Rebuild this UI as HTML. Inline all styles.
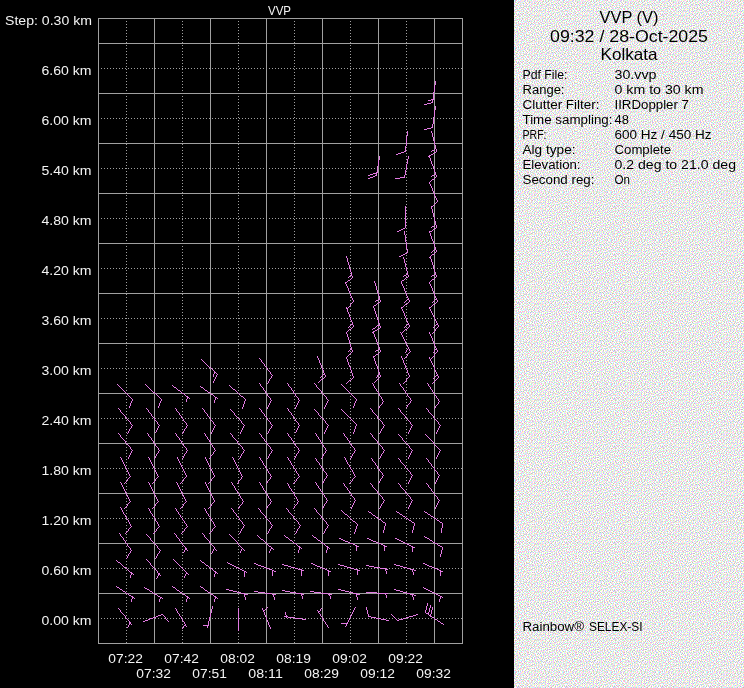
<!DOCTYPE html>
<html><head><meta charset="utf-8"><style>
html,body{margin:0;padding:0;background:#000;width:744px;height:688px;overflow:hidden}
svg{display:block;will-change:transform}
text{font-family:"Liberation Sans",sans-serif}
</style></head><body>
<svg width="744" height="688" viewBox="0 0 744 688">
<defs><pattern id="nz" width="48" height="48" patternUnits="userSpaceOnUse"><rect width="48" height="48" fill="#fff"/><path fill="#c0ffff" d="M0 0h1v1h-1zM2 0h1v1h-1zM9 0h1v1h-1zM18 0h1v1h-1zM22 0h1v1h-1zM24 0h1v1h-1zM26 0h1v1h-1zM28 0h1v1h-1zM34 0h1v1h-1zM38 0h1v1h-1zM40 0h1v1h-1zM4 1h1v1h-1zM7 1h1v1h-1zM19 1h1v1h-1zM34 1h1v1h-1zM37 1h1v1h-1zM43 1h1v1h-1zM3 2h1v1h-1zM12 2h1v1h-1zM16 2h1v1h-1zM27 2h1v1h-1zM30 2h1v1h-1zM41 2h1v1h-1zM42 2h1v1h-1zM1 3h1v1h-1zM18 3h1v1h-1zM23 3h1v1h-1zM38 3h1v1h-1zM5 4h1v1h-1zM6 4h1v1h-1zM8 4h1v1h-1zM11 4h1v1h-1zM25 4h1v1h-1zM28 4h1v1h-1zM33 4h1v1h-1zM41 4h1v1h-1zM43 4h1v1h-1zM17 5h1v1h-1zM22 5h1v1h-1zM24 5h1v1h-1zM29 5h1v1h-1zM31 5h1v1h-1zM34 5h1v1h-1zM39 5h1v1h-1zM45 5h1v1h-1zM4 6h1v1h-1zM6 6h1v1h-1zM11 6h1v1h-1zM13 6h1v1h-1zM15 6h1v1h-1zM24 6h1v1h-1zM30 6h1v1h-1zM0 7h1v1h-1zM7 7h1v1h-1zM20 7h1v1h-1zM37 7h1v1h-1zM40 7h1v1h-1zM42 7h1v1h-1zM1 8h1v1h-1zM10 8h1v1h-1zM11 8h1v1h-1zM16 8h1v1h-1zM28 8h1v1h-1zM45 8h1v1h-1zM1 9h1v1h-1zM30 9h1v1h-1zM36 9h1v1h-1zM38 9h1v1h-1zM43 9h1v1h-1zM4 10h1v1h-1zM16 10h1v1h-1zM23 10h1v1h-1zM25 10h1v1h-1zM41 10h1v1h-1zM5 11h1v1h-1zM13 11h1v1h-1zM16 11h1v1h-1zM22 11h1v1h-1zM32 11h1v1h-1zM37 11h1v1h-1zM38 11h1v1h-1zM44 11h1v1h-1zM4 12h1v1h-1zM10 12h1v1h-1zM25 12h1v1h-1zM33 12h1v1h-1zM41 12h1v1h-1zM42 12h1v1h-1zM46 12h1v1h-1zM2 13h1v1h-1zM13 13h1v1h-1zM14 13h1v1h-1zM18 13h1v1h-1zM23 13h1v1h-1zM35 13h1v1h-1zM8 14h1v1h-1zM12 14h1v1h-1zM17 14h1v1h-1zM21 14h1v1h-1zM32 14h1v1h-1zM37 14h1v1h-1zM44 14h1v1h-1zM46 14h1v1h-1zM3 15h1v1h-1zM4 15h1v1h-1zM5 15h1v1h-1zM14 15h1v1h-1zM16 15h1v1h-1zM21 15h1v1h-1zM30 15h1v1h-1zM9 16h1v1h-1zM11 16h1v1h-1zM22 16h1v1h-1zM26 16h1v1h-1zM32 16h1v1h-1zM47 16h1v1h-1zM8 17h1v1h-1zM10 17h1v1h-1zM14 17h1v1h-1zM15 17h1v1h-1zM27 17h1v1h-1zM33 17h1v1h-1zM42 17h1v1h-1zM14 18h1v1h-1zM22 18h1v1h-1zM23 18h1v1h-1zM35 18h1v1h-1zM38 18h1v1h-1zM40 18h1v1h-1zM45 18h1v1h-1zM0 19h1v1h-1zM6 19h1v1h-1zM9 19h1v1h-1zM12 19h1v1h-1zM18 19h1v1h-1zM20 19h1v1h-1zM25 19h1v1h-1zM35 19h1v1h-1zM2 20h1v1h-1zM5 20h1v1h-1zM19 20h1v1h-1zM23 20h1v1h-1zM37 20h1v1h-1zM43 20h1v1h-1zM46 20h1v1h-1zM0 21h1v1h-1zM4 21h1v1h-1zM9 21h1v1h-1zM12 21h1v1h-1zM15 21h1v1h-1zM17 21h1v1h-1zM19 21h1v1h-1zM27 21h1v1h-1zM44 21h1v1h-1zM45 21h1v1h-1zM7 22h1v1h-1zM9 22h1v1h-1zM28 22h1v1h-1zM41 22h1v1h-1zM42 22h1v1h-1zM44 22h1v1h-1zM46 22h1v1h-1zM1 23h1v1h-1zM18 23h1v1h-1zM20 23h1v1h-1zM24 23h1v1h-1zM31 23h1v1h-1zM39 23h1v1h-1zM47 23h1v1h-1zM3 24h1v1h-1zM8 24h1v1h-1zM10 24h1v1h-1zM12 24h1v1h-1zM27 24h1v1h-1zM34 24h1v1h-1zM37 24h1v1h-1zM38 24h1v1h-1zM44 24h1v1h-1zM10 25h1v1h-1zM13 25h1v1h-1zM15 25h1v1h-1zM24 25h1v1h-1zM43 25h1v1h-1zM46 25h1v1h-1zM0 26h1v1h-1zM5 26h1v1h-1zM7 26h1v1h-1zM23 26h1v1h-1zM37 26h1v1h-1zM17 27h1v1h-1zM24 27h1v1h-1zM26 27h1v1h-1zM30 27h1v1h-1zM32 27h1v1h-1zM36 27h1v1h-1zM40 27h1v1h-1zM43 27h1v1h-1zM45 27h1v1h-1zM6 28h1v1h-1zM27 28h1v1h-1zM36 28h1v1h-1zM46 28h1v1h-1zM9 29h1v1h-1zM15 29h1v1h-1zM25 29h1v1h-1zM29 29h1v1h-1zM34 29h1v1h-1zM40 29h1v1h-1zM6 30h1v1h-1zM27 30h1v1h-1zM35 30h1v1h-1zM37 30h1v1h-1zM46 30h1v1h-1zM4 31h1v1h-1zM6 31h1v1h-1zM16 31h1v1h-1zM20 31h1v1h-1zM24 31h1v1h-1zM25 31h1v1h-1zM42 31h1v1h-1zM46 31h1v1h-1zM1 32h1v1h-1zM7 32h1v1h-1zM12 32h1v1h-1zM15 32h1v1h-1zM29 32h1v1h-1zM34 32h1v1h-1zM36 32h1v1h-1zM38 32h1v1h-1zM44 32h1v1h-1zM46 32h1v1h-1zM1 33h1v1h-1zM7 33h1v1h-1zM9 33h1v1h-1zM28 33h1v1h-1zM33 33h1v1h-1zM37 33h1v1h-1zM40 33h1v1h-1zM41 33h1v1h-1zM45 33h1v1h-1zM12 34h1v1h-1zM27 34h1v1h-1zM33 34h1v1h-1zM42 34h1v1h-1zM1 35h1v1h-1zM7 35h1v1h-1zM19 35h1v1h-1zM22 35h1v1h-1zM24 35h1v1h-1zM26 35h1v1h-1zM32 35h1v1h-1zM34 35h1v1h-1zM38 35h1v1h-1zM42 35h1v1h-1zM5 36h1v1h-1zM9 36h1v1h-1zM12 36h1v1h-1zM35 36h1v1h-1zM40 36h1v1h-1zM41 36h1v1h-1zM43 36h1v1h-1zM46 36h1v1h-1zM1 37h1v1h-1zM6 37h1v1h-1zM10 37h1v1h-1zM24 37h1v1h-1zM38 37h1v1h-1zM46 37h1v1h-1zM2 38h1v1h-1zM5 38h1v1h-1zM8 38h1v1h-1zM11 38h1v1h-1zM13 38h1v1h-1zM20 38h1v1h-1zM30 38h1v1h-1zM32 38h1v1h-1zM35 38h1v1h-1zM38 38h1v1h-1zM0 39h1v1h-1zM10 39h1v1h-1zM18 39h1v1h-1zM24 39h1v1h-1zM28 39h1v1h-1zM37 39h1v1h-1zM40 39h1v1h-1zM43 39h1v1h-1zM46 39h1v1h-1zM17 40h1v1h-1zM20 40h1v1h-1zM25 40h1v1h-1zM33 40h1v1h-1zM38 40h1v1h-1zM0 41h1v1h-1zM6 41h1v1h-1zM12 41h1v1h-1zM24 41h1v1h-1zM29 41h1v1h-1zM34 41h1v1h-1zM36 41h1v1h-1zM42 41h1v1h-1zM45 41h1v1h-1zM8 42h1v1h-1zM13 42h1v1h-1zM16 42h1v1h-1zM21 42h1v1h-1zM25 42h1v1h-1zM35 42h1v1h-1zM37 42h1v1h-1zM46 42h1v1h-1zM3 43h1v1h-1zM6 43h1v1h-1zM11 43h1v1h-1zM18 43h1v1h-1zM19 43h1v1h-1zM22 43h1v1h-1zM26 43h1v1h-1zM28 43h1v1h-1zM36 43h1v1h-1zM40 43h1v1h-1zM41 43h1v1h-1zM1 44h1v1h-1zM39 44h1v1h-1zM44 44h1v1h-1zM2 45h1v1h-1zM9 45h1v1h-1zM15 45h1v1h-1zM19 45h1v1h-1zM24 45h1v1h-1zM26 45h1v1h-1zM30 45h1v1h-1zM35 45h1v1h-1zM6 46h1v1h-1zM11 46h1v1h-1zM13 46h1v1h-1zM19 46h1v1h-1zM28 46h1v1h-1zM8 47h1v1h-1zM14 47h1v1h-1zM23 47h1v1h-1zM30 47h1v1h-1zM34 47h1v1h-1zM35 47h1v1h-1zM37 47h1v1h-1zM46 47h1v1h-1z"/><path fill="#ffffc0" d="M1 0h1v1h-1zM6 0h1v1h-1zM10 0h1v1h-1zM11 0h1v1h-1zM42 0h1v1h-1zM43 0h1v1h-1zM0 1h1v1h-1zM2 1h1v1h-1zM5 1h1v1h-1zM12 1h1v1h-1zM18 1h1v1h-1zM23 1h1v1h-1zM27 1h1v1h-1zM33 1h1v1h-1zM41 1h1v1h-1zM45 1h1v1h-1zM0 2h1v1h-1zM7 2h1v1h-1zM21 2h1v1h-1zM26 2h1v1h-1zM34 2h1v1h-1zM43 2h1v1h-1zM46 2h1v1h-1zM5 3h1v1h-1zM15 3h1v1h-1zM20 3h1v1h-1zM22 3h1v1h-1zM25 3h1v1h-1zM33 3h1v1h-1zM41 3h1v1h-1zM44 3h1v1h-1zM1 4h1v1h-1zM3 4h1v1h-1zM18 4h1v1h-1zM21 4h1v1h-1zM27 4h1v1h-1zM36 4h1v1h-1zM37 4h1v1h-1zM4 5h1v1h-1zM7 5h1v1h-1zM16 5h1v1h-1zM33 5h1v1h-1zM42 5h1v1h-1zM44 5h1v1h-1zM3 6h1v1h-1zM5 6h1v1h-1zM10 6h1v1h-1zM14 6h1v1h-1zM20 6h1v1h-1zM23 6h1v1h-1zM29 6h1v1h-1zM31 6h1v1h-1zM33 6h1v1h-1zM36 6h1v1h-1zM43 6h1v1h-1zM47 6h1v1h-1zM1 7h1v1h-1zM15 7h1v1h-1zM27 7h1v1h-1zM25 8h1v1h-1zM31 8h1v1h-1zM43 8h1v1h-1zM9 9h1v1h-1zM11 9h1v1h-1zM14 9h1v1h-1zM15 9h1v1h-1zM16 9h1v1h-1zM19 9h1v1h-1zM21 9h1v1h-1zM24 9h1v1h-1zM28 9h1v1h-1zM29 9h1v1h-1zM34 9h1v1h-1zM39 9h1v1h-1zM5 10h1v1h-1zM10 10h1v1h-1zM18 10h1v1h-1zM30 10h1v1h-1zM39 10h1v1h-1zM44 10h1v1h-1zM15 11h1v1h-1zM23 11h1v1h-1zM25 11h1v1h-1zM30 11h1v1h-1zM40 11h1v1h-1zM42 11h1v1h-1zM3 12h1v1h-1zM5 12h1v1h-1zM7 12h1v1h-1zM11 12h1v1h-1zM14 12h1v1h-1zM16 12h1v1h-1zM18 12h1v1h-1zM21 12h1v1h-1zM27 12h1v1h-1zM34 12h1v1h-1zM44 12h1v1h-1zM47 12h1v1h-1zM4 13h1v1h-1zM10 13h1v1h-1zM17 13h1v1h-1zM31 13h1v1h-1zM41 13h1v1h-1zM45 13h1v1h-1zM3 14h1v1h-1zM6 14h1v1h-1zM9 14h1v1h-1zM11 14h1v1h-1zM13 14h1v1h-1zM16 14h1v1h-1zM19 14h1v1h-1zM25 14h1v1h-1zM29 14h1v1h-1zM30 14h1v1h-1zM2 15h1v1h-1zM8 15h1v1h-1zM13 15h1v1h-1zM32 15h1v1h-1zM4 16h1v1h-1zM12 16h1v1h-1zM15 16h1v1h-1zM25 16h1v1h-1zM31 16h1v1h-1zM34 16h1v1h-1zM38 16h1v1h-1zM42 16h1v1h-1zM5 17h1v1h-1zM9 17h1v1h-1zM13 17h1v1h-1zM16 17h1v1h-1zM20 17h1v1h-1zM28 17h1v1h-1zM30 17h1v1h-1zM32 17h1v1h-1zM6 18h1v1h-1zM7 18h1v1h-1zM10 18h1v1h-1zM24 18h1v1h-1zM29 18h1v1h-1zM31 18h1v1h-1zM41 18h1v1h-1zM44 18h1v1h-1zM2 19h1v1h-1zM8 19h1v1h-1zM13 19h1v1h-1zM15 19h1v1h-1zM21 19h1v1h-1zM27 19h1v1h-1zM43 19h1v1h-1zM1 20h1v1h-1zM4 20h1v1h-1zM24 20h1v1h-1zM25 20h1v1h-1zM44 20h1v1h-1zM8 21h1v1h-1zM20 21h1v1h-1zM22 21h1v1h-1zM34 21h1v1h-1zM2 22h1v1h-1zM15 22h1v1h-1zM18 22h1v1h-1zM20 22h1v1h-1zM25 22h1v1h-1zM26 22h1v1h-1zM33 22h1v1h-1zM35 22h1v1h-1zM37 22h1v1h-1zM13 23h1v1h-1zM34 23h1v1h-1zM15 24h1v1h-1zM18 24h1v1h-1zM26 24h1v1h-1zM42 24h1v1h-1zM1 25h1v1h-1zM4 25h1v1h-1zM9 25h1v1h-1zM11 25h1v1h-1zM16 25h1v1h-1zM27 25h1v1h-1zM30 25h1v1h-1zM32 25h1v1h-1zM34 25h1v1h-1zM39 25h1v1h-1zM44 25h1v1h-1zM45 25h1v1h-1zM1 26h1v1h-1zM8 26h1v1h-1zM12 26h1v1h-1zM14 26h1v1h-1zM32 26h1v1h-1zM4 27h1v1h-1zM14 27h1v1h-1zM16 27h1v1h-1zM19 27h1v1h-1zM22 27h1v1h-1zM23 27h1v1h-1zM34 27h1v1h-1zM44 27h1v1h-1zM47 27h1v1h-1zM5 28h1v1h-1zM7 28h1v1h-1zM9 28h1v1h-1zM16 28h1v1h-1zM18 28h1v1h-1zM28 28h1v1h-1zM30 28h1v1h-1zM34 28h1v1h-1zM37 28h1v1h-1zM38 28h1v1h-1zM40 28h1v1h-1zM0 29h1v1h-1zM4 29h1v1h-1zM14 29h1v1h-1zM19 29h1v1h-1zM28 29h1v1h-1zM33 29h1v1h-1zM44 29h1v1h-1zM4 30h1v1h-1zM5 30h1v1h-1zM13 30h1v1h-1zM17 30h1v1h-1zM25 30h1v1h-1zM29 30h1v1h-1zM36 30h1v1h-1zM38 30h1v1h-1zM10 31h1v1h-1zM11 31h1v1h-1zM14 31h1v1h-1zM21 31h1v1h-1zM38 31h1v1h-1zM44 31h1v1h-1zM16 32h1v1h-1zM28 32h1v1h-1zM39 32h1v1h-1zM40 32h1v1h-1zM2 33h1v1h-1zM12 33h1v1h-1zM14 33h1v1h-1zM21 33h1v1h-1zM36 33h1v1h-1zM46 33h1v1h-1zM0 34h1v1h-1zM16 34h1v1h-1zM23 34h1v1h-1zM28 34h1v1h-1zM31 34h1v1h-1zM32 34h1v1h-1zM34 34h1v1h-1zM44 34h1v1h-1zM47 34h1v1h-1zM8 35h1v1h-1zM10 35h1v1h-1zM11 35h1v1h-1zM13 35h1v1h-1zM20 35h1v1h-1zM15 36h1v1h-1zM17 36h1v1h-1zM22 36h1v1h-1zM24 36h1v1h-1zM31 36h1v1h-1zM38 36h1v1h-1zM0 37h1v1h-1zM8 37h1v1h-1zM17 37h1v1h-1zM26 37h1v1h-1zM39 37h1v1h-1zM43 37h1v1h-1zM6 38h1v1h-1zM12 38h1v1h-1zM16 38h1v1h-1zM24 38h1v1h-1zM29 38h1v1h-1zM37 38h1v1h-1zM4 39h1v1h-1zM7 39h1v1h-1zM9 39h1v1h-1zM21 39h1v1h-1zM23 39h1v1h-1zM26 39h1v1h-1zM32 39h1v1h-1zM39 39h1v1h-1zM41 39h1v1h-1zM44 39h1v1h-1zM0 40h1v1h-1zM2 40h1v1h-1zM11 40h1v1h-1zM18 40h1v1h-1zM24 40h1v1h-1zM26 40h1v1h-1zM28 40h1v1h-1zM34 40h1v1h-1zM37 40h1v1h-1zM1 41h1v1h-1zM9 41h1v1h-1zM13 41h1v1h-1zM23 41h1v1h-1zM28 41h1v1h-1zM30 41h1v1h-1zM35 41h1v1h-1zM39 41h1v1h-1zM3 42h1v1h-1zM5 42h1v1h-1zM7 42h1v1h-1zM11 42h1v1h-1zM15 42h1v1h-1zM20 42h1v1h-1zM33 42h1v1h-1zM39 42h1v1h-1zM1 43h1v1h-1zM15 43h1v1h-1zM23 43h1v1h-1zM27 43h1v1h-1zM29 43h1v1h-1zM31 43h1v1h-1zM34 43h1v1h-1zM38 43h1v1h-1zM47 43h1v1h-1zM20 44h1v1h-1zM22 44h1v1h-1zM32 44h1v1h-1zM35 44h1v1h-1zM37 44h1v1h-1zM45 44h1v1h-1zM46 44h1v1h-1zM1 45h1v1h-1zM3 45h1v1h-1zM6 45h1v1h-1zM25 45h1v1h-1zM36 45h1v1h-1zM41 45h1v1h-1zM47 45h1v1h-1zM2 46h1v1h-1zM8 46h1v1h-1zM10 46h1v1h-1zM31 46h1v1h-1zM46 46h1v1h-1zM1 47h1v1h-1zM15 47h1v1h-1zM18 47h1v1h-1zM22 47h1v1h-1zM26 47h1v1h-1zM33 47h1v1h-1zM43 47h1v1h-1zM45 47h1v1h-1z"/><path fill="#c0ffc0" d="M3 0h1v1h-1zM15 0h1v1h-1zM21 0h1v1h-1zM26 1h1v1h-1zM30 1h1v1h-1zM39 1h1v1h-1zM8 2h1v1h-1zM14 2h1v1h-1zM24 2h1v1h-1zM32 2h1v1h-1zM36 2h1v1h-1zM3 3h1v1h-1zM10 3h1v1h-1zM40 3h1v1h-1zM13 4h1v1h-1zM14 4h1v1h-1zM31 4h1v1h-1zM35 4h1v1h-1zM11 5h1v1h-1zM18 5h1v1h-1zM20 5h1v1h-1zM40 5h1v1h-1zM1 6h1v1h-1zM8 6h1v1h-1zM2 7h1v1h-1zM13 7h1v1h-1zM17 7h1v1h-1zM22 7h1v1h-1zM35 7h1v1h-1zM39 7h1v1h-1zM46 7h1v1h-1zM7 8h1v1h-1zM12 8h1v1h-1zM18 8h1v1h-1zM26 8h1v1h-1zM32 8h1v1h-1zM3 9h1v1h-1zM6 9h1v1h-1zM37 9h1v1h-1zM41 9h1v1h-1zM12 10h1v1h-1zM20 10h1v1h-1zM27 10h1v1h-1zM33 10h1v1h-1zM46 10h1v1h-1zM1 11h1v1h-1zM2 11h1v1h-1zM10 11h1v1h-1zM35 11h1v1h-1zM23 12h1v1h-1zM26 12h1v1h-1zM29 12h1v1h-1zM31 12h1v1h-1zM6 13h1v1h-1zM19 13h1v1h-1zM34 13h1v1h-1zM38 13h1v1h-1zM0 14h1v1h-1zM24 14h1v1h-1zM11 15h1v1h-1zM27 15h1v1h-1zM39 15h1v1h-1zM42 15h1v1h-1zM45 15h1v1h-1zM0 16h1v1h-1zM2 16h1v1h-1zM7 16h1v1h-1zM18 16h1v1h-1zM28 16h1v1h-1zM40 16h1v1h-1zM46 16h1v1h-1zM3 17h1v1h-1zM19 17h1v1h-1zM37 17h1v1h-1zM44 17h1v1h-1zM17 18h1v1h-1zM36 18h1v1h-1zM39 18h1v1h-1zM47 18h1v1h-1zM11 19h1v1h-1zM29 19h1v1h-1zM16 20h1v1h-1zM26 20h1v1h-1zM32 20h1v1h-1zM36 20h1v1h-1zM39 20h1v1h-1zM47 20h1v1h-1zM3 21h1v1h-1zM11 21h1v1h-1zM25 21h1v1h-1zM29 21h1v1h-1zM30 21h1v1h-1zM40 21h1v1h-1zM22 22h1v1h-1zM32 22h1v1h-1zM4 23h1v1h-1zM6 23h1v1h-1zM28 23h1v1h-1zM36 23h1v1h-1zM7 24h1v1h-1zM17 24h1v1h-1zM19 24h1v1h-1zM23 24h1v1h-1zM0 25h1v1h-1zM36 25h1v1h-1zM41 25h1v1h-1zM47 25h1v1h-1zM25 26h1v1h-1zM40 26h1v1h-1zM43 26h1v1h-1zM6 27h1v1h-1zM11 27h1v1h-1zM3 28h1v1h-1zM12 28h1v1h-1zM15 28h1v1h-1zM21 28h1v1h-1zM2 29h1v1h-1zM20 29h1v1h-1zM24 29h1v1h-1zM43 29h1v1h-1zM22 30h1v1h-1zM32 30h1v1h-1zM18 31h1v1h-1zM19 31h1v1h-1zM23 31h1v1h-1zM31 31h1v1h-1zM41 31h1v1h-1zM5 32h1v1h-1zM9 32h1v1h-1zM27 32h1v1h-1zM30 32h1v1h-1zM4 33h1v1h-1zM19 33h1v1h-1zM23 33h1v1h-1zM25 33h1v1h-1zM43 33h1v1h-1zM15 34h1v1h-1zM38 34h1v1h-1zM3 35h1v1h-1zM25 35h1v1h-1zM29 35h1v1h-1zM36 35h1v1h-1zM39 35h1v1h-1zM2 36h1v1h-1zM23 36h1v1h-1zM13 37h1v1h-1zM29 37h1v1h-1zM36 37h1v1h-1zM47 37h1v1h-1zM3 38h1v1h-1zM33 38h1v1h-1zM6 39h1v1h-1zM12 39h1v1h-1zM27 39h1v1h-1zM31 39h1v1h-1zM35 39h1v1h-1zM8 40h1v1h-1zM14 40h1v1h-1zM22 40h1v1h-1zM44 40h1v1h-1zM47 40h1v1h-1zM4 41h1v1h-1zM10 41h1v1h-1zM19 41h1v1h-1zM41 41h1v1h-1zM43 41h1v1h-1zM2 42h1v1h-1zM18 42h1v1h-1zM32 42h1v1h-1zM42 43h1v1h-1zM45 43h1v1h-1zM8 44h1v1h-1zM17 44h1v1h-1zM25 44h1v1h-1zM31 44h1v1h-1zM13 45h1v1h-1zM16 45h1v1h-1zM23 45h1v1h-1zM39 45h1v1h-1zM42 45h1v1h-1zM4 46h1v1h-1zM27 46h1v1h-1zM33 46h1v1h-1zM40 46h1v1h-1zM3 47h1v1h-1zM6 47h1v1h-1zM9 47h1v1h-1zM11 47h1v1h-1zM17 47h1v1h-1zM20 47h1v1h-1zM29 47h1v1h-1z"/><path fill="#ffc0ff" d="M5 0h1v1h-1zM7 0h1v1h-1zM12 0h1v1h-1zM13 0h1v1h-1zM27 0h1v1h-1zM30 0h1v1h-1zM41 0h1v1h-1zM44 0h1v1h-1zM3 1h1v1h-1zM6 1h1v1h-1zM8 1h1v1h-1zM22 1h1v1h-1zM25 1h1v1h-1zM28 1h1v1h-1zM32 1h1v1h-1zM38 1h1v1h-1zM40 1h1v1h-1zM42 1h1v1h-1zM2 2h1v1h-1zM4 2h1v1h-1zM13 2h1v1h-1zM19 2h1v1h-1zM25 2h1v1h-1zM39 2h1v1h-1zM40 2h1v1h-1zM0 3h1v1h-1zM4 3h1v1h-1zM14 3h1v1h-1zM27 3h1v1h-1zM31 3h1v1h-1zM34 3h1v1h-1zM42 3h1v1h-1zM2 4h1v1h-1zM4 4h1v1h-1zM10 4h1v1h-1zM29 4h1v1h-1zM32 4h1v1h-1zM34 4h1v1h-1zM40 4h1v1h-1zM45 4h1v1h-1zM12 5h1v1h-1zM14 5h1v1h-1zM19 5h1v1h-1zM21 5h1v1h-1zM23 5h1v1h-1zM25 5h1v1h-1zM41 5h1v1h-1zM2 6h1v1h-1zM7 6h1v1h-1zM12 6h1v1h-1zM16 6h1v1h-1zM17 6h1v1h-1zM22 6h1v1h-1zM25 6h1v1h-1zM35 6h1v1h-1zM3 7h1v1h-1zM14 7h1v1h-1zM19 7h1v1h-1zM32 7h1v1h-1zM33 7h1v1h-1zM36 7h1v1h-1zM6 8h1v1h-1zM9 8h1v1h-1zM13 8h1v1h-1zM17 8h1v1h-1zM23 8h1v1h-1zM29 8h1v1h-1zM37 8h1v1h-1zM40 8h1v1h-1zM42 8h1v1h-1zM4 9h1v1h-1zM12 9h1v1h-1zM26 9h1v1h-1zM47 9h1v1h-1zM1 10h1v1h-1zM2 10h1v1h-1zM28 10h1v1h-1zM32 10h1v1h-1zM40 10h1v1h-1zM4 11h1v1h-1zM11 11h1v1h-1zM12 11h1v1h-1zM17 11h1v1h-1zM20 11h1v1h-1zM24 11h1v1h-1zM26 11h1v1h-1zM31 11h1v1h-1zM34 11h1v1h-1zM41 11h1v1h-1zM2 12h1v1h-1zM6 12h1v1h-1zM20 12h1v1h-1zM35 12h1v1h-1zM39 12h1v1h-1zM11 13h1v1h-1zM16 13h1v1h-1zM20 13h1v1h-1zM24 13h1v1h-1zM27 13h1v1h-1zM32 13h1v1h-1zM42 13h1v1h-1zM46 13h1v1h-1zM2 14h1v1h-1zM4 14h1v1h-1zM5 14h1v1h-1zM10 14h1v1h-1zM14 14h1v1h-1zM18 14h1v1h-1zM23 14h1v1h-1zM39 14h1v1h-1zM45 14h1v1h-1zM6 15h1v1h-1zM10 15h1v1h-1zM15 15h1v1h-1zM19 15h1v1h-1zM26 15h1v1h-1zM29 15h1v1h-1zM31 15h1v1h-1zM38 15h1v1h-1zM40 15h1v1h-1zM46 15h1v1h-1zM3 16h1v1h-1zM13 16h1v1h-1zM17 16h1v1h-1zM27 16h1v1h-1zM1 17h1v1h-1zM4 17h1v1h-1zM12 17h1v1h-1zM31 17h1v1h-1zM35 17h1v1h-1zM39 17h1v1h-1zM41 17h1v1h-1zM45 17h1v1h-1zM47 17h1v1h-1zM8 18h1v1h-1zM13 18h1v1h-1zM19 18h1v1h-1zM28 18h1v1h-1zM43 18h1v1h-1zM1 19h1v1h-1zM10 19h1v1h-1zM17 19h1v1h-1zM23 19h1v1h-1zM24 19h1v1h-1zM26 19h1v1h-1zM36 19h1v1h-1zM38 19h1v1h-1zM40 19h1v1h-1zM3 20h1v1h-1zM8 20h1v1h-1zM29 20h1v1h-1zM30 20h1v1h-1zM45 20h1v1h-1zM2 21h1v1h-1zM18 21h1v1h-1zM26 21h1v1h-1zM41 21h1v1h-1zM46 21h1v1h-1zM3 22h1v1h-1zM6 22h1v1h-1zM19 22h1v1h-1zM23 22h1v1h-1zM27 22h1v1h-1zM38 22h1v1h-1zM0 23h1v1h-1zM7 23h1v1h-1zM16 23h1v1h-1zM19 23h1v1h-1zM23 23h1v1h-1zM25 23h1v1h-1zM32 23h1v1h-1zM35 23h1v1h-1zM43 23h1v1h-1zM4 24h1v1h-1zM9 24h1v1h-1zM36 24h1v1h-1zM40 24h1v1h-1zM43 24h1v1h-1zM2 25h1v1h-1zM6 25h1v1h-1zM20 25h1v1h-1zM35 25h1v1h-1zM37 25h1v1h-1zM16 26h1v1h-1zM44 26h1v1h-1zM47 26h1v1h-1zM0 27h1v1h-1zM5 27h1v1h-1zM12 27h1v1h-1zM13 27h1v1h-1zM15 27h1v1h-1zM25 27h1v1h-1zM2 28h1v1h-1zM10 28h1v1h-1zM23 28h1v1h-1zM24 28h1v1h-1zM42 28h1v1h-1zM44 28h1v1h-1zM6 29h1v1h-1zM16 29h1v1h-1zM21 29h1v1h-1zM30 29h1v1h-1zM32 29h1v1h-1zM36 29h1v1h-1zM37 29h1v1h-1zM47 29h1v1h-1zM16 30h1v1h-1zM19 30h1v1h-1zM20 30h1v1h-1zM23 30h1v1h-1zM26 30h1v1h-1zM39 30h1v1h-1zM47 30h1v1h-1zM5 31h1v1h-1zM12 31h1v1h-1zM17 31h1v1h-1zM22 31h1v1h-1zM26 31h1v1h-1zM28 31h1v1h-1zM4 32h1v1h-1zM10 32h1v1h-1zM20 32h1v1h-1zM33 32h1v1h-1zM37 32h1v1h-1zM41 32h1v1h-1zM43 32h1v1h-1zM45 32h1v1h-1zM8 33h1v1h-1zM20 33h1v1h-1zM26 33h1v1h-1zM29 33h1v1h-1zM31 33h1v1h-1zM39 33h1v1h-1zM44 33h1v1h-1zM8 34h1v1h-1zM14 34h1v1h-1zM24 34h1v1h-1zM25 34h1v1h-1zM26 34h1v1h-1zM37 34h1v1h-1zM43 34h1v1h-1zM12 35h1v1h-1zM23 35h1v1h-1zM30 35h1v1h-1zM35 35h1v1h-1zM37 35h1v1h-1zM3 36h1v1h-1zM10 36h1v1h-1zM25 36h1v1h-1zM34 36h1v1h-1zM39 36h1v1h-1zM2 37h1v1h-1zM7 37h1v1h-1zM11 37h1v1h-1zM23 37h1v1h-1zM25 37h1v1h-1zM37 37h1v1h-1zM44 37h1v1h-1zM0 38h1v1h-1zM4 38h1v1h-1zM7 38h1v1h-1zM19 38h1v1h-1zM21 38h1v1h-1zM25 38h1v1h-1zM28 38h1v1h-1zM31 38h1v1h-1zM34 38h1v1h-1zM41 38h1v1h-1zM2 39h1v1h-1zM11 39h1v1h-1zM13 39h1v1h-1zM25 39h1v1h-1zM29 39h1v1h-1zM33 39h1v1h-1zM38 39h1v1h-1zM10 40h1v1h-1zM23 40h1v1h-1zM32 40h1v1h-1zM36 40h1v1h-1zM41 40h1v1h-1zM42 40h1v1h-1zM43 40h1v1h-1zM2 41h1v1h-1zM8 41h1v1h-1zM11 41h1v1h-1zM21 41h1v1h-1zM25 41h1v1h-1zM46 41h1v1h-1zM0 42h1v1h-1zM4 42h1v1h-1zM6 42h1v1h-1zM12 42h1v1h-1zM14 42h1v1h-1zM19 42h1v1h-1zM28 42h1v1h-1zM34 42h1v1h-1zM38 42h1v1h-1zM16 43h1v1h-1zM17 43h1v1h-1zM24 43h1v1h-1zM25 43h1v1h-1zM32 43h1v1h-1zM37 43h1v1h-1zM46 43h1v1h-1zM0 44h1v1h-1zM2 44h1v1h-1zM5 44h1v1h-1zM24 44h1v1h-1zM30 44h1v1h-1zM36 44h1v1h-1zM41 44h1v1h-1zM7 45h1v1h-1zM18 45h1v1h-1zM22 45h1v1h-1zM28 45h1v1h-1zM40 45h1v1h-1zM43 45h1v1h-1zM3 46h1v1h-1zM9 46h1v1h-1zM12 46h1v1h-1zM16 46h1v1h-1zM23 46h1v1h-1zM32 46h1v1h-1zM34 46h1v1h-1zM4 47h1v1h-1zM10 47h1v1h-1zM16 47h1v1h-1zM19 47h1v1h-1zM47 47h1v1h-1z"/><path fill="#ffc0c0" d="M17 0h1v1h-1zM20 0h1v1h-1zM23 0h1v1h-1zM29 0h1v1h-1zM36 0h1v1h-1zM47 0h1v1h-1zM9 1h1v1h-1zM14 1h1v1h-1zM35 1h1v1h-1zM29 2h1v1h-1zM38 2h1v1h-1zM6 3h1v1h-1zM9 3h1v1h-1zM17 3h1v1h-1zM9 4h1v1h-1zM16 4h1v1h-1zM23 4h1v1h-1zM39 4h1v1h-1zM6 5h1v1h-1zM8 5h1v1h-1zM13 5h1v1h-1zM30 5h1v1h-1zM46 5h1v1h-1zM38 6h1v1h-1zM40 6h1v1h-1zM45 6h1v1h-1zM6 7h1v1h-1zM11 7h1v1h-1zM21 7h1v1h-1zM30 7h1v1h-1zM0 8h1v1h-1zM3 8h1v1h-1zM20 8h1v1h-1zM36 8h1v1h-1zM44 8h1v1h-1zM47 8h1v1h-1zM0 9h1v1h-1zM27 9h1v1h-1zM42 9h1v1h-1zM3 10h1v1h-1zM13 10h1v1h-1zM17 10h1v1h-1zM24 10h1v1h-1zM37 10h1v1h-1zM38 10h1v1h-1zM33 11h1v1h-1zM36 11h1v1h-1zM43 11h1v1h-1zM46 11h1v1h-1zM0 12h1v1h-1zM9 12h1v1h-1zM13 12h1v1h-1zM22 13h1v1h-1zM36 13h1v1h-1zM36 14h1v1h-1zM42 14h1v1h-1zM22 15h1v1h-1zM44 15h1v1h-1zM47 15h1v1h-1zM6 16h1v1h-1zM8 16h1v1h-1zM10 16h1v1h-1zM14 16h1v1h-1zM21 16h1v1h-1zM33 16h1v1h-1zM36 16h1v1h-1zM0 17h1v1h-1zM17 17h1v1h-1zM23 17h1v1h-1zM15 18h1v1h-1zM26 18h1v1h-1zM34 18h1v1h-1zM46 18h1v1h-1zM19 19h1v1h-1zM37 19h1v1h-1zM39 19h1v1h-1zM45 19h1v1h-1zM47 19h1v1h-1zM6 20h1v1h-1zM9 20h1v1h-1zM12 20h1v1h-1zM18 20h1v1h-1zM21 20h1v1h-1zM31 20h1v1h-1zM35 20h1v1h-1zM14 21h1v1h-1zM16 21h1v1h-1zM43 21h1v1h-1zM47 21h1v1h-1zM0 22h1v1h-1zM5 22h1v1h-1zM8 22h1v1h-1zM10 22h1v1h-1zM12 22h1v1h-1zM29 22h1v1h-1zM45 22h1v1h-1zM10 23h1v1h-1zM21 23h1v1h-1zM30 23h1v1h-1zM38 23h1v1h-1zM40 23h1v1h-1zM42 23h1v1h-1zM44 23h1v1h-1zM46 23h1v1h-1zM11 24h1v1h-1zM13 24h1v1h-1zM24 24h1v1h-1zM28 24h1v1h-1zM39 24h1v1h-1zM46 24h1v1h-1zM7 25h1v1h-1zM31 25h1v1h-1zM38 25h1v1h-1zM6 26h1v1h-1zM19 26h1v1h-1zM24 26h1v1h-1zM26 26h1v1h-1zM29 26h1v1h-1zM42 26h1v1h-1zM28 27h1v1h-1zM31 27h1v1h-1zM37 27h1v1h-1zM46 27h1v1h-1zM26 28h1v1h-1zM41 28h1v1h-1zM47 28h1v1h-1zM7 30h1v1h-1zM24 30h1v1h-1zM40 30h1v1h-1zM3 31h1v1h-1zM7 31h1v1h-1zM15 31h1v1h-1zM34 31h1v1h-1zM36 31h1v1h-1zM45 31h1v1h-1zM47 31h1v1h-1zM0 32h1v1h-1zM2 32h1v1h-1zM8 32h1v1h-1zM24 32h1v1h-1zM35 32h1v1h-1zM42 32h1v1h-1zM6 33h1v1h-1zM13 33h1v1h-1zM27 33h1v1h-1zM30 33h1v1h-1zM34 33h1v1h-1zM38 33h1v1h-1zM1 34h1v1h-1zM18 34h1v1h-1zM40 34h1v1h-1zM41 34h1v1h-1zM6 35h1v1h-1zM33 35h1v1h-1zM46 35h1v1h-1zM1 36h1v1h-1zM4 36h1v1h-1zM7 36h1v1h-1zM29 36h1v1h-1zM33 36h1v1h-1zM37 36h1v1h-1zM42 36h1v1h-1zM44 36h1v1h-1zM5 37h1v1h-1zM9 37h1v1h-1zM12 37h1v1h-1zM35 37h1v1h-1zM1 38h1v1h-1zM40 38h1v1h-1zM46 38h1v1h-1zM17 39h1v1h-1zM20 39h1v1h-1zM36 39h1v1h-1zM45 39h1v1h-1zM5 40h1v1h-1zM13 40h1v1h-1zM16 40h1v1h-1zM19 40h1v1h-1zM46 40h1v1h-1zM7 41h1v1h-1zM32 41h1v1h-1zM37 41h1v1h-1zM40 41h1v1h-1zM17 42h1v1h-1zM26 42h1v1h-1zM36 42h1v1h-1zM44 42h1v1h-1zM47 42h1v1h-1zM10 43h1v1h-1zM20 43h1v1h-1zM43 43h1v1h-1zM9 44h1v1h-1zM18 44h1v1h-1zM26 44h1v1h-1zM40 44h1v1h-1zM43 44h1v1h-1zM11 45h1v1h-1zM14 45h1v1h-1zM29 45h1v1h-1zM5 46h1v1h-1zM21 46h1v1h-1zM24 46h1v1h-1zM30 46h1v1h-1zM35 46h1v1h-1zM38 46h1v1h-1zM7 47h1v1h-1zM13 47h1v1h-1zM28 47h1v1h-1zM36 47h1v1h-1zM42 47h1v1h-1z"/><path fill="#c0c0c0" d="M31 0h1v1h-1zM15 1h1v1h-1zM20 1h1v1h-1zM1 2h1v1h-1zM10 2h1v1h-1zM18 2h1v1h-1zM12 3h1v1h-1zM28 3h1v1h-1zM30 3h1v1h-1zM37 3h1v1h-1zM43 3h1v1h-1zM46 3h1v1h-1zM24 4h1v1h-1zM26 4h1v1h-1zM47 4h1v1h-1zM27 5h1v1h-1zM36 5h1v1h-1zM34 6h1v1h-1zM25 7h1v1h-1zM28 7h1v1h-1zM41 7h1v1h-1zM43 7h1v1h-1zM4 8h1v1h-1zM22 8h1v1h-1zM31 9h1v1h-1zM6 11h1v1h-1zM8 11h1v1h-1zM21 11h1v1h-1zM25 13h1v1h-1zM40 13h1v1h-1zM43 13h1v1h-1zM47 13h1v1h-1zM1 14h1v1h-1zM20 14h1v1h-1zM27 14h1v1h-1zM34 14h1v1h-1zM38 14h1v1h-1zM17 15h1v1h-1zM23 15h1v1h-1zM35 16h1v1h-1zM39 16h1v1h-1zM21 17h1v1h-1zM25 17h1v1h-1zM2 18h1v1h-1zM42 18h1v1h-1zM4 19h1v1h-1zM22 19h1v1h-1zM33 19h1v1h-1zM41 20h1v1h-1zM1 21h1v1h-1zM6 21h1v1h-1zM38 21h1v1h-1zM17 22h1v1h-1zM3 23h1v1h-1zM2 24h1v1h-1zM33 24h1v1h-1zM17 25h1v1h-1zM21 25h1v1h-1zM22 25h1v1h-1zM10 26h1v1h-1zM2 27h1v1h-1zM8 27h1v1h-1zM21 27h1v1h-1zM35 27h1v1h-1zM0 28h1v1h-1zM10 29h1v1h-1zM12 29h1v1h-1zM27 29h1v1h-1zM39 29h1v1h-1zM45 29h1v1h-1zM1 30h1v1h-1zM9 30h1v1h-1zM31 30h1v1h-1zM34 30h1v1h-1zM42 30h1v1h-1zM44 30h1v1h-1zM17 32h1v1h-1zM32 32h1v1h-1zM10 33h1v1h-1zM22 33h1v1h-1zM4 34h1v1h-1zM20 34h1v1h-1zM46 34h1v1h-1zM9 35h1v1h-1zM14 35h1v1h-1zM44 35h1v1h-1zM18 36h1v1h-1zM19 36h1v1h-1zM27 36h1v1h-1zM21 37h1v1h-1zM28 37h1v1h-1zM32 37h1v1h-1zM10 38h1v1h-1zM15 38h1v1h-1zM26 38h1v1h-1zM44 38h1v1h-1zM42 39h1v1h-1zM21 40h1v1h-1zM30 40h1v1h-1zM3 41h1v1h-1zM23 42h1v1h-1zM13 43h1v1h-1zM4 44h1v1h-1zM6 44h1v1h-1zM12 44h1v1h-1zM15 44h1v1h-1zM28 44h1v1h-1zM0 45h1v1h-1zM17 46h1v1h-1zM45 46h1v1h-1zM38 47h1v1h-1z"/><path fill="#c0c0ff" d="M35 0h1v1h-1zM45 0h1v1h-1zM1 1h1v1h-1zM11 1h1v1h-1zM17 1h1v1h-1zM44 1h1v1h-1zM47 1h1v1h-1zM6 2h1v1h-1zM23 2h1v1h-1zM33 2h1v1h-1zM35 2h1v1h-1zM45 2h1v1h-1zM7 3h1v1h-1zM21 3h1v1h-1zM15 4h1v1h-1zM19 4h1v1h-1zM20 4h1v1h-1zM1 5h1v1h-1zM3 5h1v1h-1zM32 5h1v1h-1zM37 5h1v1h-1zM43 5h1v1h-1zM0 6h1v1h-1zM9 6h1v1h-1zM18 6h1v1h-1zM28 6h1v1h-1zM44 6h1v1h-1zM46 6h1v1h-1zM5 7h1v1h-1zM9 7h1v1h-1zM15 8h1v1h-1zM24 8h1v1h-1zM30 8h1v1h-1zM33 8h1v1h-1zM39 8h1v1h-1zM8 9h1v1h-1zM17 9h1v1h-1zM20 9h1v1h-1zM25 9h1v1h-1zM35 9h1v1h-1zM45 9h1v1h-1zM7 10h1v1h-1zM9 10h1v1h-1zM11 10h1v1h-1zM15 10h1v1h-1zM22 10h1v1h-1zM29 10h1v1h-1zM34 10h1v1h-1zM43 10h1v1h-1zM14 11h1v1h-1zM19 11h1v1h-1zM39 11h1v1h-1zM47 11h1v1h-1zM17 12h1v1h-1zM28 12h1v1h-1zM30 12h1v1h-1zM45 12h1v1h-1zM3 13h1v1h-1zM8 13h1v1h-1zM15 13h1v1h-1zM29 13h1v1h-1zM31 14h1v1h-1zM41 14h1v1h-1zM1 15h1v1h-1zM7 15h1v1h-1zM9 15h1v1h-1zM12 15h1v1h-1zM33 15h1v1h-1zM37 15h1v1h-1zM24 16h1v1h-1zM30 16h1v1h-1zM43 16h1v1h-1zM6 17h1v1h-1zM29 17h1v1h-1zM5 18h1v1h-1zM11 18h1v1h-1zM16 18h1v1h-1zM20 18h1v1h-1zM27 18h1v1h-1zM32 18h1v1h-1zM7 19h1v1h-1zM14 19h1v1h-1zM31 19h1v1h-1zM42 19h1v1h-1zM10 20h1v1h-1zM14 20h1v1h-1zM28 20h1v1h-1zM34 20h1v1h-1zM21 21h1v1h-1zM24 21h1v1h-1zM33 21h1v1h-1zM13 22h1v1h-1zM31 22h1v1h-1zM34 22h1v1h-1zM36 22h1v1h-1zM11 23h1v1h-1zM14 23h1v1h-1zM15 23h1v1h-1zM22 23h1v1h-1zM26 23h1v1h-1zM0 24h1v1h-1zM5 24h1v1h-1zM30 24h1v1h-1zM41 24h1v1h-1zM19 25h1v1h-1zM26 25h1v1h-1zM28 25h1v1h-1zM33 25h1v1h-1zM3 26h1v1h-1zM9 26h1v1h-1zM13 26h1v1h-1zM15 26h1v1h-1zM18 26h1v1h-1zM28 26h1v1h-1zM31 26h1v1h-1zM34 26h1v1h-1zM39 26h1v1h-1zM45 26h1v1h-1zM41 27h1v1h-1zM4 28h1v1h-1zM8 28h1v1h-1zM14 28h1v1h-1zM17 28h1v1h-1zM19 28h1v1h-1zM22 28h1v1h-1zM29 28h1v1h-1zM32 28h1v1h-1zM33 28h1v1h-1zM39 28h1v1h-1zM5 29h1v1h-1zM18 29h1v1h-1zM0 30h1v1h-1zM3 30h1v1h-1zM11 30h1v1h-1zM15 30h1v1h-1zM13 31h1v1h-1zM29 31h1v1h-1zM37 31h1v1h-1zM40 31h1v1h-1zM13 32h1v1h-1zM21 32h1v1h-1zM3 33h1v1h-1zM15 33h1v1h-1zM6 34h1v1h-1zM11 34h1v1h-1zM17 34h1v1h-1zM29 34h1v1h-1zM35 34h1v1h-1zM0 35h1v1h-1zM16 35h1v1h-1zM21 35h1v1h-1zM31 35h1v1h-1zM47 35h1v1h-1zM13 36h1v1h-1zM4 37h1v1h-1zM14 37h1v1h-1zM16 37h1v1h-1zM18 37h1v1h-1zM30 37h1v1h-1zM41 37h1v1h-1zM45 37h1v1h-1zM17 38h1v1h-1zM23 38h1v1h-1zM39 38h1v1h-1zM8 39h1v1h-1zM22 39h1v1h-1zM1 40h1v1h-1zM4 40h1v1h-1zM6 40h1v1h-1zM27 40h1v1h-1zM35 40h1v1h-1zM14 41h1v1h-1zM16 41h1v1h-1zM27 41h1v1h-1zM31 41h1v1h-1zM38 41h1v1h-1zM1 42h1v1h-1zM10 42h1v1h-1zM29 42h1v1h-1zM31 42h1v1h-1zM41 42h1v1h-1zM8 43h1v1h-1zM21 43h1v1h-1zM33 43h1v1h-1zM44 43h1v1h-1zM34 44h1v1h-1zM38 44h1v1h-1zM47 44h1v1h-1zM10 45h1v1h-1zM21 45h1v1h-1zM32 45h1v1h-1zM37 45h1v1h-1zM46 45h1v1h-1zM1 46h1v1h-1zM7 46h1v1h-1zM26 46h1v1h-1zM42 46h1v1h-1zM0 47h1v1h-1zM21 47h1v1h-1zM25 47h1v1h-1zM31 47h1v1h-1zM40 47h1v1h-1zM44 47h1v1h-1z"/></pattern></defs>
<rect width="744" height="688" fill="#000"/>
<rect x="514" y="0" width="230" height="688" fill="url(#nz)"/>
<rect x="98" y="43" width="365" height="1" fill="#a0a0a0"/>
<rect x="98" y="93" width="365" height="1" fill="#a0a0a0"/>
<rect x="98" y="143" width="365" height="1" fill="#a0a0a0"/>
<rect x="98" y="193" width="365" height="1" fill="#a0a0a0"/>
<rect x="98" y="243" width="365" height="1" fill="#a0a0a0"/>
<rect x="98" y="293" width="365" height="1" fill="#a0a0a0"/>
<rect x="98" y="343" width="365" height="1" fill="#a0a0a0"/>
<rect x="98" y="393" width="365" height="1" fill="#a0a0a0"/>
<rect x="98" y="443" width="365" height="1" fill="#a0a0a0"/>
<rect x="98" y="493" width="365" height="1" fill="#a0a0a0"/>
<rect x="98" y="543" width="365" height="1" fill="#a0a0a0"/>
<rect x="98" y="593" width="365" height="1" fill="#a0a0a0"/>
<rect x="98" y="18" width="365" height="1" fill="#a0a0a0"/>
<rect x="98" y="643" width="365" height="1" fill="#a0a0a0"/>
<rect x="154" y="18" width="1" height="626" fill="#a0a0a0"/>
<rect x="210" y="18" width="1" height="626" fill="#a0a0a0"/>
<rect x="266" y="18" width="1" height="626" fill="#a0a0a0"/>
<rect x="322" y="18" width="1" height="626" fill="#a0a0a0"/>
<rect x="378" y="18" width="1" height="626" fill="#a0a0a0"/>
<rect x="434" y="18" width="1" height="626" fill="#a0a0a0"/>
<rect x="98" y="18" width="1" height="626" fill="#a0a0a0"/>
<rect x="462" y="18" width="1" height="626" fill="#a0a0a0"/>
<line x1="99" y1="68.5" x2="462" y2="68.5" stroke="#a0a0a0" stroke-width="1" stroke-dasharray="1 2" stroke-dashoffset="-2"/>
<line x1="99" y1="118.5" x2="462" y2="118.5" stroke="#a0a0a0" stroke-width="1" stroke-dasharray="1 2" stroke-dashoffset="-2"/>
<line x1="99" y1="168.5" x2="462" y2="168.5" stroke="#a0a0a0" stroke-width="1" stroke-dasharray="1 2" stroke-dashoffset="-2"/>
<line x1="99" y1="218.5" x2="462" y2="218.5" stroke="#a0a0a0" stroke-width="1" stroke-dasharray="1 2" stroke-dashoffset="-2"/>
<line x1="99" y1="268.5" x2="462" y2="268.5" stroke="#a0a0a0" stroke-width="1" stroke-dasharray="1 2" stroke-dashoffset="-2"/>
<line x1="99" y1="318.5" x2="462" y2="318.5" stroke="#a0a0a0" stroke-width="1" stroke-dasharray="1 2" stroke-dashoffset="-2"/>
<line x1="99" y1="368.5" x2="462" y2="368.5" stroke="#a0a0a0" stroke-width="1" stroke-dasharray="1 2" stroke-dashoffset="-2"/>
<line x1="99" y1="418.5" x2="462" y2="418.5" stroke="#a0a0a0" stroke-width="1" stroke-dasharray="1 2" stroke-dashoffset="-2"/>
<line x1="99" y1="468.5" x2="462" y2="468.5" stroke="#a0a0a0" stroke-width="1" stroke-dasharray="1 2" stroke-dashoffset="-2"/>
<line x1="99" y1="518.5" x2="462" y2="518.5" stroke="#a0a0a0" stroke-width="1" stroke-dasharray="1 2" stroke-dashoffset="-2"/>
<line x1="99" y1="568.5" x2="462" y2="568.5" stroke="#a0a0a0" stroke-width="1" stroke-dasharray="1 2" stroke-dashoffset="-2"/>
<line x1="99" y1="618.5" x2="462" y2="618.5" stroke="#a0a0a0" stroke-width="1" stroke-dasharray="1 2" stroke-dashoffset="-2"/>
<line x1="126.5" y1="19" x2="126.5" y2="643" stroke="#a0a0a0" stroke-width="1" stroke-dasharray="1 2" stroke-dashoffset="-2"/>
<line x1="182.5" y1="19" x2="182.5" y2="643" stroke="#a0a0a0" stroke-width="1" stroke-dasharray="1 2" stroke-dashoffset="-2"/>
<line x1="238.5" y1="19" x2="238.5" y2="643" stroke="#a0a0a0" stroke-width="1" stroke-dasharray="1 2" stroke-dashoffset="-2"/>
<line x1="294.5" y1="19" x2="294.5" y2="643" stroke="#a0a0a0" stroke-width="1" stroke-dasharray="1 2" stroke-dashoffset="-2"/>
<line x1="350.5" y1="19" x2="350.5" y2="643" stroke="#a0a0a0" stroke-width="1" stroke-dasharray="1 2" stroke-dashoffset="-2"/>
<line x1="406.5" y1="19" x2="406.5" y2="643" stroke="#a0a0a0" stroke-width="1" stroke-dasharray="1 2" stroke-dashoffset="-2"/>
<text x="5" y="25" font-size="12" fill="#f4f4f4" text-anchor="start" textLength="87" lengthAdjust="spacingAndGlyphs">Step: 0.30 km</text>
<text x="41.5" y="75" font-size="12" fill="#f4f4f4" text-anchor="start" textLength="50" lengthAdjust="spacingAndGlyphs">6.60 km</text>
<text x="41.5" y="125" font-size="12" fill="#f4f4f4" text-anchor="start" textLength="50" lengthAdjust="spacingAndGlyphs">6.00 km</text>
<text x="41.5" y="175" font-size="12" fill="#f4f4f4" text-anchor="start" textLength="50" lengthAdjust="spacingAndGlyphs">5.40 km</text>
<text x="41.5" y="225" font-size="12" fill="#f4f4f4" text-anchor="start" textLength="50" lengthAdjust="spacingAndGlyphs">4.80 km</text>
<text x="41.5" y="275" font-size="12" fill="#f4f4f4" text-anchor="start" textLength="50" lengthAdjust="spacingAndGlyphs">4.20 km</text>
<text x="41.5" y="325" font-size="12" fill="#f4f4f4" text-anchor="start" textLength="50" lengthAdjust="spacingAndGlyphs">3.60 km</text>
<text x="41.5" y="375" font-size="12" fill="#f4f4f4" text-anchor="start" textLength="50" lengthAdjust="spacingAndGlyphs">3.00 km</text>
<text x="41.5" y="425" font-size="12" fill="#f4f4f4" text-anchor="start" textLength="50" lengthAdjust="spacingAndGlyphs">2.40 km</text>
<text x="41.5" y="475" font-size="12" fill="#f4f4f4" text-anchor="start" textLength="50" lengthAdjust="spacingAndGlyphs">1.80 km</text>
<text x="41.5" y="525" font-size="12" fill="#f4f4f4" text-anchor="start" textLength="50" lengthAdjust="spacingAndGlyphs">1.20 km</text>
<text x="41.5" y="575" font-size="12" fill="#f4f4f4" text-anchor="start" textLength="50" lengthAdjust="spacingAndGlyphs">0.60 km</text>
<text x="41.5" y="625" font-size="12" fill="#f4f4f4" text-anchor="start" textLength="50" lengthAdjust="spacingAndGlyphs">0.00 km</text>
<text x="268" y="15" font-size="12" fill="#f4f4f4" text-anchor="start" textLength="23" lengthAdjust="spacingAndGlyphs">VVP</text>
<text x="108.3" y="663" font-size="12" fill="#f4f4f4" text-anchor="start" textLength="34.5" lengthAdjust="spacingAndGlyphs">07:22</text>
<text x="164.3" y="663" font-size="12" fill="#f4f4f4" text-anchor="start" textLength="34.5" lengthAdjust="spacingAndGlyphs">07:42</text>
<text x="220.3" y="663" font-size="12" fill="#f4f4f4" text-anchor="start" textLength="34.5" lengthAdjust="spacingAndGlyphs">08:02</text>
<text x="276.3" y="663" font-size="12" fill="#f4f4f4" text-anchor="start" textLength="34.5" lengthAdjust="spacingAndGlyphs">08:19</text>
<text x="332.3" y="663" font-size="12" fill="#f4f4f4" text-anchor="start" textLength="34.5" lengthAdjust="spacingAndGlyphs">09:02</text>
<text x="388.3" y="663" font-size="12" fill="#f4f4f4" text-anchor="start" textLength="34.5" lengthAdjust="spacingAndGlyphs">09:22</text>
<text x="136.3" y="678" font-size="12" fill="#f4f4f4" text-anchor="start" textLength="34.5" lengthAdjust="spacingAndGlyphs">07:32</text>
<text x="192.3" y="678" font-size="12" fill="#f4f4f4" text-anchor="start" textLength="34.5" lengthAdjust="spacingAndGlyphs">07:51</text>
<text x="248.3" y="678" font-size="12" fill="#f4f4f4" text-anchor="start" textLength="34.5" lengthAdjust="spacingAndGlyphs">08:11</text>
<text x="304.3" y="678" font-size="12" fill="#f4f4f4" text-anchor="start" textLength="34.5" lengthAdjust="spacingAndGlyphs">08:29</text>
<text x="360.3" y="678" font-size="12" fill="#f4f4f4" text-anchor="start" textLength="34.5" lengthAdjust="spacingAndGlyphs">09:12</text>
<text x="416.3" y="678" font-size="12" fill="#f4f4f4" text-anchor="start" textLength="34.5" lengthAdjust="spacingAndGlyphs">09:32</text>
<path d="M435 81h1v1h-1zM435 82h1v1h-1zM435 83h1v1h-1zM435 84h1v1h-1zM434 85h1v1h-1zM434 86h1v1h-1zM434 87h1v1h-1zM434 88h1v1h-1zM434 89h1v1h-1zM434 90h1v1h-1zM434 91h1v1h-1zM433 92h1v1h-1zM433 93h1v1h-1zM433 94h1v1h-1zM433 95h1v1h-1zM433 96h1v1h-1zM433 97h1v1h-1zM433 98h1v1h-1zM431 99h3v1h-3zM428 100h3v1h-3zM432 100h1v1h-1zM432 101h1v1h-1zM431 102h2v1h-2zM427 103h4v1h-4zM424 104h3v1h-3zM435 106h1v1h-1zM435 107h1v1h-1zM435 108h1v1h-1zM435 109h1v1h-1zM434 110h1v1h-1zM434 111h1v1h-1zM434 112h1v1h-1zM434 113h1v1h-1zM434 114h1v1h-1zM434 115h1v1h-1zM434 116h1v1h-1zM433 117h1v1h-1zM433 118h1v1h-1zM433 119h1v1h-1zM433 120h1v1h-1zM433 121h1v1h-1zM433 122h1v1h-1zM433 123h1v1h-1zM432 124h1v1h-1zM432 125h1v1h-1zM432 126h1v1h-1zM431 127h2v1h-2zM427 128h4v1h-4zM424 129h3v1h-3zM407 131h1v1h-1zM431 131h1v1h-1zM407 132h1v1h-1zM431 132h1v1h-1zM407 133h1v1h-1zM432 133h1v1h-1zM407 134h1v1h-1zM432 134h1v1h-1zM407 135h1v1h-1zM432 135h1v1h-1zM406 136h1v1h-1zM432 136h1v1h-1zM406 137h1v1h-1zM433 137h1v1h-1zM406 138h1v1h-1zM433 138h1v1h-1zM406 139h1v1h-1zM433 139h1v1h-1zM406 140h1v1h-1zM433 140h1v1h-1zM406 141h1v1h-1zM434 141h1v1h-1zM406 142h1v1h-1zM434 142h1v1h-1zM406 143h1v1h-1zM434 143h1v1h-1zM406 144h1v1h-1zM434 144h1v1h-1zM406 145h1v1h-1zM435 145h1v1h-1zM405 146h1v1h-1zM435 146h1v1h-1zM405 147h1v1h-1zM435 147h1v1h-1zM405 148h1v1h-1zM435 148h1v1h-1zM405 149h1v1h-1zM434 149h1v1h-1zM436 149h1v1h-1zM405 150h1v1h-1zM432 150h2v1h-2zM436 150h1v1h-1zM404 151h2v1h-2zM431 151h1v1h-1zM436 151h1v1h-1zM401 152h3v1h-3zM434 152h2v1h-2zM398 153h3v1h-3zM433 153h1v1h-1zM396 154h2v1h-2zM431 154h2v1h-2zM429 155h2v1h-2zM379 156h1v1h-1zM408 156h1v1h-1zM428 156h2v1h-2zM379 157h1v1h-1zM408 157h1v1h-1zM429 157h1v1h-1zM379 158h1v1h-1zM408 158h1v1h-1zM430 158h1v1h-1zM379 159h1v1h-1zM407 159h1v1h-1zM430 159h1v1h-1zM378 160h1v1h-1zM407 160h1v1h-1zM430 160h1v1h-1zM378 161h1v1h-1zM407 161h1v1h-1zM431 161h1v1h-1zM378 162h1v1h-1zM407 162h1v1h-1zM431 162h1v1h-1zM378 163h1v1h-1zM407 163h1v1h-1zM431 163h1v1h-1zM378 164h1v1h-1zM406 164h1v1h-1zM432 164h1v1h-1zM378 165h1v1h-1zM406 165h1v1h-1zM432 165h1v1h-1zM377 166h1v1h-1zM406 166h1v1h-1zM433 166h1v1h-1zM377 167h1v1h-1zM406 167h1v1h-1zM433 167h1v1h-1zM377 168h1v1h-1zM406 168h1v1h-1zM433 168h1v1h-1zM377 169h1v1h-1zM406 169h1v1h-1zM434 169h1v1h-1zM377 170h1v1h-1zM405 170h1v1h-1zM434 170h1v1h-1zM377 171h1v1h-1zM405 171h1v1h-1zM434 171h1v1h-1zM376 172h2v1h-2zM405 172h1v1h-1zM435 172h1v1h-1zM373 173h4v1h-4zM405 173h1v1h-1zM435 173h1v1h-1zM370 174h3v1h-3zM376 174h1v1h-1zM405 174h1v1h-1zM434 174h2v1h-2zM368 175h2v1h-2zM375 175h2v1h-2zM404 175h1v1h-1zM432 175h2v1h-2zM436 175h1v1h-1zM373 176h2v1h-2zM404 176h1v1h-1zM431 176h1v1h-1zM436 176h1v1h-1zM370 177h3v1h-3zM400 177h5v1h-5zM435 177h1v1h-1zM368 178h2v1h-2zM395 178h5v1h-5zM434 178h1v1h-1zM432 179h2v1h-2zM431 180h1v1h-1zM430 181h1v1h-1zM429 182h1v1h-1zM429 183h1v1h-1zM430 184h1v1h-1zM430 185h1v1h-1zM431 186h1v1h-1zM431 187h1v1h-1zM432 188h1v1h-1zM432 189h1v1h-1zM432 190h1v1h-1zM433 191h1v1h-1zM433 192h1v1h-1zM434 193h1v1h-1zM434 194h1v1h-1zM434 195h1v1h-1zM435 196h1v1h-1zM435 197h1v1h-1zM436 198h1v1h-1zM436 199h1v1h-1zM437 200h1v1h-1zM437 201h1v1h-1zM436 202h1v1h-1zM435 203h1v1h-1zM434 204h1v1h-1zM433 205h1v1h-1zM405 206h1v1h-1zM431 206h2v1h-2zM405 207h1v1h-1zM431 207h1v1h-1zM405 208h1v1h-1zM431 208h1v1h-1zM405 209h1v1h-1zM432 209h1v1h-1zM405 210h1v1h-1zM432 210h1v1h-1zM405 211h1v1h-1zM432 211h1v1h-1zM405 212h1v1h-1zM432 212h1v1h-1zM405 213h1v1h-1zM433 213h1v1h-1zM405 214h1v1h-1zM433 214h1v1h-1zM405 215h1v1h-1zM433 215h1v1h-1zM405 216h1v1h-1zM433 216h1v1h-1zM405 217h1v1h-1zM434 217h1v1h-1zM405 218h1v1h-1zM434 218h1v1h-1zM405 219h1v1h-1zM434 219h1v1h-1zM405 220h1v1h-1zM434 220h1v1h-1zM405 221h1v1h-1zM435 221h1v1h-1zM405 222h1v1h-1zM435 222h1v1h-1zM405 223h1v1h-1zM435 223h1v1h-1zM405 224h1v1h-1zM435 224h1v1h-1zM405 225h1v1h-1zM434 225h1v1h-1zM436 225h1v1h-1zM405 226h1v1h-1zM432 226h2v1h-2zM436 226h1v1h-1zM405 227h1v1h-1zM431 227h1v1h-1zM436 227h1v1h-1zM403 228h2v1h-2zM434 228h2v1h-2zM401 229h2v1h-2zM433 229h1v1h-1zM399 230h2v1h-2zM432 230h1v1h-1zM397 231h2v1h-2zM404 231h1v1h-1zM429 231h3v1h-3zM404 232h1v1h-1zM429 232h1v1h-1zM404 233h1v1h-1zM430 233h1v1h-1zM404 234h1v1h-1zM430 234h1v1h-1zM405 235h1v1h-1zM430 235h1v1h-1zM405 236h1v1h-1zM431 236h1v1h-1zM405 237h1v1h-1zM431 237h1v1h-1zM405 238h1v1h-1zM431 238h1v1h-1zM405 239h1v1h-1zM432 239h1v1h-1zM405 240h1v1h-1zM432 240h1v1h-1zM405 241h1v1h-1zM433 241h1v1h-1zM406 242h1v1h-1zM433 242h1v1h-1zM406 243h1v1h-1zM433 243h1v1h-1zM406 244h1v1h-1zM434 244h1v1h-1zM406 245h1v1h-1zM434 245h1v1h-1zM406 246h1v1h-1zM434 246h1v1h-1zM406 247h1v1h-1zM435 247h1v1h-1zM406 248h1v1h-1zM435 248h1v1h-1zM407 249h1v1h-1zM434 249h2v1h-2zM407 250h1v1h-1zM433 250h1v1h-1zM436 250h1v1h-1zM407 251h1v1h-1zM432 251h1v1h-1zM436 251h1v1h-1zM407 252h1v1h-1zM431 252h1v1h-1zM435 252h1v1h-1zM405 253h2v1h-2zM434 253h1v1h-1zM403 254h2v1h-2zM432 254h2v1h-2zM401 255h2v1h-2zM431 255h1v1h-1zM346 256h1v1h-1zM399 256h2v1h-2zM430 256h1v1h-1zM346 257h1v1h-1zM403 257h1v1h-1zM429 257h2v1h-2zM347 258h1v1h-1zM403 258h1v1h-1zM430 258h1v1h-1zM347 259h1v1h-1zM404 259h1v1h-1zM431 259h1v1h-1zM347 260h1v1h-1zM404 260h1v1h-1zM431 260h1v1h-1zM347 261h1v1h-1zM404 261h1v1h-1zM431 261h1v1h-1zM348 262h1v1h-1zM404 262h1v1h-1zM432 262h1v1h-1zM348 263h1v1h-1zM405 263h1v1h-1zM432 263h1v1h-1zM348 264h1v1h-1zM405 264h1v1h-1zM432 264h1v1h-1zM349 265h1v1h-1zM405 265h1v1h-1zM433 265h1v1h-1zM349 266h1v1h-1zM405 266h1v1h-1zM433 266h1v1h-1zM349 267h1v1h-1zM406 267h1v1h-1zM433 267h1v1h-1zM349 268h1v1h-1zM406 268h1v1h-1zM433 268h1v1h-1zM350 269h1v1h-1zM406 269h1v1h-1zM434 269h1v1h-1zM350 270h1v1h-1zM406 270h1v1h-1zM434 270h1v1h-1zM350 271h1v1h-1zM407 271h1v1h-1zM434 271h1v1h-1zM351 272h1v1h-1zM407 272h1v1h-1zM435 272h1v1h-1zM351 273h1v1h-1zM407 273h1v1h-1zM435 273h1v1h-1zM351 274h1v1h-1zM406 274h2v1h-2zM434 274h2v1h-2zM350 275h2v1h-2zM404 275h2v1h-2zM408 275h1v1h-1zM432 275h2v1h-2zM436 275h1v1h-1zM349 276h1v1h-1zM352 276h1v1h-1zM403 276h1v1h-1zM408 276h1v1h-1zM431 276h1v1h-1zM436 276h1v1h-1zM348 277h1v1h-1zM352 277h1v1h-1zM406 277h2v1h-2zM435 277h1v1h-1zM351 278h1v1h-1zM405 278h1v1h-1zM434 278h1v1h-1zM350 279h1v1h-1zM404 279h1v1h-1zM432 279h2v1h-2zM348 280h2v1h-2zM402 280h2v1h-2zM431 280h1v1h-1zM347 281h1v1h-1zM374 281h1v1h-1zM401 281h1v1h-1zM430 281h1v1h-1zM345 282h2v1h-2zM374 282h1v1h-1zM401 282h1v1h-1zM429 282h1v1h-1zM345 283h1v1h-1zM375 283h1v1h-1zM401 283h1v1h-1zM429 283h1v1h-1zM346 284h1v1h-1zM375 284h1v1h-1zM402 284h1v1h-1zM430 284h1v1h-1zM346 285h1v1h-1zM375 285h1v1h-1zM402 285h1v1h-1zM430 285h1v1h-1zM347 286h1v1h-1zM376 286h1v1h-1zM403 286h1v1h-1zM431 286h1v1h-1zM347 287h1v1h-1zM376 287h1v1h-1zM403 287h1v1h-1zM431 287h1v1h-1zM348 288h1v1h-1zM376 288h1v1h-1zM404 288h1v1h-1zM432 288h1v1h-1zM348 289h1v1h-1zM376 289h1v1h-1zM404 289h1v1h-1zM432 289h1v1h-1zM348 290h1v1h-1zM377 290h1v1h-1zM404 290h1v1h-1zM432 290h1v1h-1zM349 291h1v1h-1zM377 291h1v1h-1zM405 291h1v1h-1zM433 291h1v1h-1zM349 292h1v1h-1zM377 292h1v1h-1zM405 292h1v1h-1zM433 292h1v1h-1zM350 293h1v1h-1zM378 293h1v1h-1zM406 293h1v1h-1zM434 293h1v1h-1zM350 294h1v1h-1zM378 294h1v1h-1zM406 294h1v1h-1zM434 294h1v1h-1zM350 295h1v1h-1zM378 295h1v1h-1zM406 295h1v1h-1zM434 295h1v1h-1zM351 296h1v1h-1zM379 296h1v1h-1zM407 296h1v1h-1zM435 296h1v1h-1zM351 297h1v1h-1zM379 297h1v1h-1zM407 297h1v1h-1zM435 297h1v1h-1zM352 298h1v1h-1zM379 298h1v1h-1zM408 298h1v1h-1zM436 298h1v1h-1zM352 299h1v1h-1zM378 299h2v1h-2zM407 299h2v1h-2zM435 299h2v1h-2zM353 300h1v1h-1zM376 300h2v1h-2zM380 300h1v1h-1zM406 300h1v1h-1zM409 300h1v1h-1zM434 300h1v1h-1zM437 300h1v1h-1zM353 301h1v1h-1zM375 301h1v1h-1zM380 301h1v1h-1zM405 301h1v1h-1zM409 301h1v1h-1zM433 301h1v1h-1zM437 301h1v1h-1zM352 302h1v1h-1zM378 302h2v1h-2zM404 302h1v1h-1zM408 302h1v1h-1zM432 302h1v1h-1zM436 302h1v1h-1zM351 303h1v1h-1zM377 303h1v1h-1zM407 303h1v1h-1zM435 303h1v1h-1zM350 304h1v1h-1zM376 304h1v1h-1zM405 304h2v1h-2zM433 304h2v1h-2zM350 305h1v1h-1zM374 305h2v1h-2zM404 305h1v1h-1zM432 305h1v1h-1zM349 306h1v1h-1zM373 306h1v1h-1zM403 306h1v1h-1zM431 306h1v1h-1zM346 307h1v1h-1zM348 307h1v1h-1zM373 307h1v1h-1zM401 307h2v1h-2zM429 307h2v1h-2zM346 308h2v1h-2zM374 308h1v1h-1zM401 308h1v1h-1zM429 308h1v1h-1zM347 309h1v1h-1zM374 309h1v1h-1zM402 309h1v1h-1zM430 309h1v1h-1zM347 310h1v1h-1zM374 310h1v1h-1zM402 310h1v1h-1zM430 310h1v1h-1zM347 311h1v1h-1zM375 311h1v1h-1zM403 311h1v1h-1zM431 311h1v1h-1zM348 312h1v1h-1zM375 312h1v1h-1zM403 312h1v1h-1zM431 312h1v1h-1zM348 313h1v1h-1zM375 313h1v1h-1zM404 313h1v1h-1zM432 313h1v1h-1zM349 314h1v1h-1zM376 314h1v1h-1zM404 314h1v1h-1zM432 314h1v1h-1zM349 315h1v1h-1zM376 315h1v1h-1zM404 315h1v1h-1zM433 315h1v1h-1zM349 316h1v1h-1zM376 316h1v1h-1zM405 316h1v1h-1zM433 316h1v1h-1zM350 317h1v1h-1zM377 317h1v1h-1zM405 317h1v1h-1zM434 317h1v1h-1zM350 318h1v1h-1zM377 318h1v1h-1zM406 318h1v1h-1zM434 318h1v1h-1zM350 319h1v1h-1zM377 319h1v1h-1zM406 319h1v1h-1zM435 319h1v1h-1zM351 320h1v1h-1zM378 320h1v1h-1zM406 320h1v1h-1zM435 320h1v1h-1zM351 321h1v1h-1zM378 321h1v1h-1zM407 321h1v1h-1zM436 321h1v1h-1zM352 322h1v1h-1zM378 322h1v1h-1zM407 322h1v1h-1zM436 322h1v1h-1zM352 323h1v1h-1zM379 323h1v1h-1zM408 323h1v1h-1zM437 323h1v1h-1zM351 324h2v1h-2zM379 324h1v1h-1zM407 324h2v1h-2zM436 324h2v1h-2zM350 325h1v1h-1zM353 325h1v1h-1zM377 325h3v1h-3zM406 325h1v1h-1zM409 325h1v1h-1zM435 325h1v1h-1zM438 325h1v1h-1zM349 326h1v1h-1zM353 326h1v1h-1zM376 326h1v1h-1zM380 326h1v1h-1zM405 326h1v1h-1zM409 326h1v1h-1zM434 326h1v1h-1zM438 326h1v1h-1zM348 327h1v1h-1zM352 327h1v1h-1zM375 327h1v1h-1zM380 327h1v1h-1zM404 327h1v1h-1zM408 327h1v1h-1zM433 327h1v1h-1zM437 327h1v1h-1zM351 328h1v1h-1zM373 328h2v1h-2zM378 328h2v1h-2zM407 328h1v1h-1zM436 328h1v1h-1zM349 329h2v1h-2zM372 329h1v1h-1zM377 329h1v1h-1zM405 329h2v1h-2zM435 329h1v1h-1zM348 330h1v1h-1zM375 330h2v1h-2zM404 330h1v1h-1zM435 330h1v1h-1zM347 331h1v1h-1zM373 331h2v1h-2zM403 331h1v1h-1zM434 331h1v1h-1zM346 332h1v1h-1zM372 332h2v1h-2zM400 332h1v1h-1zM402 332h1v1h-1zM429 332h1v1h-1zM433 332h1v1h-1zM346 333h1v1h-1zM373 333h1v1h-1zM401 333h1v1h-1zM429 333h1v1h-1zM432 333h1v1h-1zM347 334h1v1h-1zM374 334h1v1h-1zM401 334h1v1h-1zM430 334h1v1h-1zM347 335h1v1h-1zM374 335h1v1h-1zM402 335h1v1h-1zM430 335h1v1h-1zM347 336h1v1h-1zM374 336h1v1h-1zM402 336h1v1h-1zM431 336h1v1h-1zM348 337h1v1h-1zM375 337h1v1h-1zM403 337h1v1h-1zM431 337h1v1h-1zM348 338h1v1h-1zM375 338h1v1h-1zM403 338h1v1h-1zM432 338h1v1h-1zM348 339h1v1h-1zM376 339h1v1h-1zM404 339h1v1h-1zM432 339h1v1h-1zM349 340h1v1h-1zM376 340h1v1h-1zM404 340h1v1h-1zM432 340h1v1h-1zM349 341h1v1h-1zM376 341h1v1h-1zM405 341h1v1h-1zM433 341h1v1h-1zM349 342h1v1h-1zM377 342h1v1h-1zM405 342h1v1h-1zM433 342h1v1h-1zM349 343h1v1h-1zM377 343h1v1h-1zM406 343h1v1h-1zM434 343h1v1h-1zM350 344h1v1h-1zM377 344h1v1h-1zM406 344h1v1h-1zM434 344h1v1h-1zM350 345h1v1h-1zM378 345h1v1h-1zM407 345h1v1h-1zM434 345h1v1h-1zM350 346h1v1h-1zM378 346h1v1h-1zM407 346h1v1h-1zM435 346h1v1h-1zM351 347h1v1h-1zM379 347h1v1h-1zM408 347h1v1h-1zM435 347h1v1h-1zM351 348h1v1h-1zM379 348h1v1h-1zM408 348h1v1h-1zM436 348h1v1h-1zM350 349h2v1h-2zM378 349h2v1h-2zM407 349h1v1h-1zM409 349h1v1h-1zM435 349h2v1h-2zM349 350h1v1h-1zM352 350h1v1h-1zM376 350h2v1h-2zM380 350h1v1h-1zM406 350h1v1h-1zM409 350h1v1h-1zM434 350h1v1h-1zM437 350h1v1h-1zM348 351h1v1h-1zM352 351h1v1h-1zM375 351h1v1h-1zM380 351h1v1h-1zM406 351h1v1h-1zM410 351h1v1h-1zM434 351h1v1h-1zM437 351h1v1h-1zM351 352h1v1h-1zM379 352h1v1h-1zM405 352h1v1h-1zM409 352h1v1h-1zM433 352h1v1h-1zM436 352h1v1h-1zM350 353h1v1h-1zM378 353h1v1h-1zM408 353h1v1h-1zM435 353h1v1h-1zM349 354h1v1h-1zM376 354h2v1h-2zM407 354h1v1h-1zM434 354h1v1h-1zM348 355h1v1h-1zM375 355h1v1h-1zM407 355h1v1h-1zM434 355h1v1h-1zM317 356h1v1h-1zM347 356h1v1h-1zM373 356h2v1h-2zM401 356h1v1h-1zM406 356h1v1h-1zM433 356h1v1h-1zM317 357h1v1h-1zM346 357h1v1h-1zM373 357h1v1h-1zM401 357h1v1h-1zM405 357h1v1h-1zM429 357h1v1h-1zM432 357h1v1h-1zM259 358h1v1h-1zM318 358h1v1h-1zM346 358h1v1h-1zM374 358h1v1h-1zM402 358h1v1h-1zM404 358h1v1h-1zM429 358h1v1h-1zM431 358h1v1h-1zM201 359h1v1h-1zM260 359h1v1h-1zM318 359h1v1h-1zM347 359h1v1h-1zM374 359h1v1h-1zM402 359h1v1h-1zM430 359h1v1h-1zM202 360h1v1h-1zM261 360h1v1h-1zM319 360h1v1h-1zM347 360h1v1h-1zM374 360h1v1h-1zM403 360h1v1h-1zM430 360h1v1h-1zM203 361h1v1h-1zM261 361h1v1h-1zM319 361h1v1h-1zM347 361h1v1h-1zM375 361h1v1h-1zM403 361h1v1h-1zM431 361h1v1h-1zM204 362h1v1h-1zM262 362h1v1h-1zM319 362h1v1h-1zM348 362h1v1h-1zM375 362h1v1h-1zM403 362h1v1h-1zM431 362h1v1h-1zM205 363h1v1h-1zM263 363h1v1h-1zM320 363h1v1h-1zM348 363h1v1h-1zM375 363h1v1h-1zM404 363h1v1h-1zM432 363h1v1h-1zM206 364h1v1h-1zM264 364h1v1h-1zM320 364h1v1h-1zM348 364h1v1h-1zM376 364h1v1h-1zM404 364h1v1h-1zM432 364h1v1h-1zM207 365h1v1h-1zM264 365h1v1h-1zM321 365h1v1h-1zM349 365h1v1h-1zM376 365h1v1h-1zM405 365h1v1h-1zM433 365h1v1h-1zM208 366h1v1h-1zM265 366h1v1h-1zM321 366h1v1h-1zM349 366h1v1h-1zM377 366h1v1h-1zM405 366h1v1h-1zM433 366h1v1h-1zM209 367h2v1h-2zM266 367h1v1h-1zM321 367h1v1h-1zM350 367h1v1h-1zM377 367h1v1h-1zM405 367h1v1h-1zM434 367h1v1h-1zM211 368h1v1h-1zM267 368h1v1h-1zM322 368h1v1h-1zM350 368h1v1h-1zM377 368h1v1h-1zM406 368h1v1h-1zM434 368h1v1h-1zM212 369h1v1h-1zM267 369h1v1h-1zM322 369h1v1h-1zM350 369h1v1h-1zM378 369h1v1h-1zM406 369h1v1h-1zM434 369h1v1h-1zM213 370h1v1h-1zM268 370h1v1h-1zM323 370h1v1h-1zM351 370h1v1h-1zM378 370h1v1h-1zM407 370h1v1h-1zM435 370h1v1h-1zM214 371h1v1h-1zM269 371h1v1h-1zM323 371h1v1h-1zM351 371h1v1h-1zM378 371h1v1h-1zM407 371h1v1h-1zM435 371h1v1h-1zM214 372h2v1h-2zM270 372h1v1h-1zM323 372h1v1h-1zM351 372h1v1h-1zM379 372h1v1h-1zM407 372h1v1h-1zM436 372h1v1h-1zM214 373h1v1h-1zM216 373h1v1h-1zM270 373h1v1h-1zM324 373h1v1h-1zM352 373h1v1h-1zM379 373h1v1h-1zM408 373h1v1h-1zM436 373h1v1h-1zM213 374h1v1h-1zM217 374h1v1h-1zM271 374h1v1h-1zM323 374h2v1h-2zM352 374h1v1h-1zM378 374h2v1h-2zM408 374h1v1h-1zM437 374h1v1h-1zM213 375h1v1h-1zM216 375h1v1h-1zM272 375h1v1h-1zM322 375h1v1h-1zM325 375h1v1h-1zM352 375h1v1h-1zM377 375h1v1h-1zM380 375h1v1h-1zM409 375h1v1h-1zM436 375h2v1h-2zM213 376h1v1h-1zM216 376h1v1h-1zM271 376h1v1h-1zM321 376h1v1h-1zM325 376h1v1h-1zM353 376h1v1h-1zM377 376h1v1h-1zM380 376h1v1h-1zM409 376h1v1h-1zM435 376h1v1h-1zM438 376h1v1h-1zM215 377h1v1h-1zM271 377h1v1h-1zM320 377h1v1h-1zM324 377h1v1h-1zM353 377h1v1h-1zM376 377h1v1h-1zM379 377h1v1h-1zM408 377h1v1h-1zM434 377h1v1h-1zM438 377h1v1h-1zM215 378h1v1h-1zM270 378h1v1h-1zM323 378h1v1h-1zM352 378h1v1h-1zM378 378h1v1h-1zM407 378h1v1h-1zM433 378h1v1h-1zM437 378h1v1h-1zM214 379h1v1h-1zM269 379h1v1h-1zM321 379h2v1h-2zM351 379h1v1h-1zM377 379h1v1h-1zM406 379h1v1h-1zM436 379h1v1h-1zM214 380h1v1h-1zM269 380h1v1h-1zM320 380h1v1h-1zM349 380h2v1h-2zM376 380h1v1h-1zM406 380h1v1h-1zM435 380h1v1h-1zM213 381h1v1h-1zM268 381h1v1h-1zM319 381h1v1h-1zM348 381h1v1h-1zM375 381h1v1h-1zM405 381h1v1h-1zM434 381h1v1h-1zM213 382h1v1h-1zM268 382h1v1h-1zM318 382h1v1h-1zM347 382h1v1h-1zM374 382h1v1h-1zM404 382h1v1h-1zM433 382h1v1h-1zM259 383h1v1h-1zM267 383h1v1h-1zM287 383h1v1h-1zM314 383h1v1h-1zM346 383h1v1h-1zM372 383h1v1h-1zM399 383h1v1h-1zM403 383h1v1h-1zM427 383h1v1h-1zM432 383h1v1h-1zM117 384h1v1h-1zM145 384h1v1h-1zM260 384h1v1h-1zM288 384h1v1h-1zM315 384h1v1h-1zM341 384h1v1h-1zM373 384h1v1h-1zM400 384h1v1h-1zM428 384h1v1h-1zM118 385h1v1h-1zM146 385h1v1h-1zM172 385h1v1h-1zM229 385h1v1h-1zM260 385h1v1h-1zM288 385h1v1h-1zM316 385h1v1h-1zM342 385h1v1h-1zM373 385h1v1h-1zM400 385h1v1h-1zM428 385h1v1h-1zM119 386h1v1h-1zM147 386h1v1h-1zM173 386h1v1h-1zM200 386h1v1h-1zM230 386h1v1h-1zM261 386h1v1h-1zM289 386h1v1h-1zM316 386h1v1h-1zM343 386h1v1h-1zM374 386h1v1h-1zM401 386h1v1h-1zM429 386h1v1h-1zM120 387h1v1h-1zM148 387h1v1h-1zM174 387h2v1h-2zM201 387h2v1h-2zM231 387h1v1h-1zM262 387h1v1h-1zM290 387h1v1h-1zM317 387h1v1h-1zM344 387h1v1h-1zM374 387h1v1h-1zM402 387h1v1h-1zM430 387h1v1h-1zM121 388h1v1h-1zM149 388h1v1h-1zM176 388h1v1h-1zM203 388h1v1h-1zM232 388h1v1h-1zM263 388h1v1h-1zM291 388h1v1h-1zM318 388h1v1h-1zM345 388h1v1h-1zM375 388h1v1h-1zM403 388h1v1h-1zM430 388h1v1h-1zM122 389h1v1h-1zM150 389h1v1h-1zM177 389h1v1h-1zM204 389h1v1h-1zM233 389h2v1h-2zM263 389h1v1h-1zM291 389h1v1h-1zM319 389h1v1h-1zM346 389h1v1h-1zM376 389h1v1h-1zM403 389h1v1h-1zM431 389h1v1h-1zM123 390h1v1h-1zM151 390h1v1h-1zM178 390h2v1h-2zM205 390h2v1h-2zM235 390h1v1h-1zM264 390h1v1h-1zM292 390h1v1h-1zM320 390h1v1h-1zM347 390h1v1h-1zM376 390h1v1h-1zM404 390h1v1h-1zM432 390h1v1h-1zM124 391h1v1h-1zM152 391h1v1h-1zM180 391h1v1h-1zM207 391h1v1h-1zM236 391h1v1h-1zM265 391h1v1h-1zM293 391h1v1h-1zM321 391h1v1h-1zM348 391h1v1h-1zM377 391h1v1h-1zM405 391h1v1h-1zM432 391h1v1h-1zM125 392h1v1h-1zM153 392h2v1h-2zM181 392h1v1h-1zM208 392h2v1h-2zM237 392h1v1h-1zM265 392h1v1h-1zM293 392h1v1h-1zM321 392h1v1h-1zM349 392h1v1h-1zM378 392h1v1h-1zM405 392h1v1h-1zM433 392h1v1h-1zM126 393h1v1h-1zM155 393h1v1h-1zM182 393h2v1h-2zM210 393h1v1h-1zM238 393h1v1h-1zM266 393h1v1h-1zM294 393h1v1h-1zM322 393h1v1h-1zM350 393h1v1h-1zM378 393h1v1h-1zM406 393h1v1h-1zM434 393h1v1h-1zM127 394h1v1h-1zM156 394h1v1h-1zM184 394h1v1h-1zM211 394h2v1h-2zM239 394h1v1h-1zM267 394h1v1h-1zM295 394h1v1h-1zM323 394h1v1h-1zM351 394h1v1h-1zM379 394h1v1h-1zM407 394h1v1h-1zM434 394h1v1h-1zM128 395h1v1h-1zM157 395h1v1h-1zM185 395h1v1h-1zM213 395h1v1h-1zM240 395h1v1h-1zM267 395h1v1h-1zM295 395h1v1h-1zM324 395h1v1h-1zM352 395h1v1h-1zM379 395h1v1h-1zM407 395h1v1h-1zM435 395h1v1h-1zM129 396h1v1h-1zM158 396h1v1h-1zM186 396h2v1h-2zM214 396h1v1h-1zM241 396h2v1h-2zM268 396h1v1h-1zM296 396h1v1h-1zM325 396h1v1h-1zM353 396h1v1h-1zM380 396h1v1h-1zM408 396h1v1h-1zM436 396h1v1h-1zM130 397h1v1h-1zM159 397h1v1h-1zM187 397h2v1h-2zM215 397h2v1h-2zM243 397h1v1h-1zM269 397h1v1h-1zM297 397h1v1h-1zM326 397h1v1h-1zM354 397h1v1h-1zM381 397h1v1h-1zM409 397h1v1h-1zM436 397h1v1h-1zM131 398h1v1h-1zM160 398h1v1h-1zM187 398h1v1h-1zM189 398h1v1h-1zM215 398h1v1h-1zM217 398h1v1h-1zM244 398h1v1h-1zM270 398h1v1h-1zM298 398h1v1h-1zM326 398h1v1h-1zM355 398h1v1h-1zM381 398h1v1h-1zM410 398h1v1h-1zM437 398h1v1h-1zM132 399h1v1h-1zM161 399h1v1h-1zM186 399h1v1h-1zM215 399h1v1h-1zM245 399h1v1h-1zM270 399h1v1h-1zM298 399h1v1h-1zM327 399h1v1h-1zM356 399h1v1h-1zM382 399h1v1h-1zM410 399h1v1h-1zM438 399h1v1h-1zM132 400h1v1h-1zM161 400h1v1h-1zM186 400h1v1h-1zM214 400h1v1h-1zM245 400h1v1h-1zM271 400h1v1h-1zM299 400h1v1h-1zM328 400h1v1h-1zM356 400h1v1h-1zM382 400h1v1h-1zM411 400h1v1h-1zM438 400h1v1h-1zM131 401h1v1h-1zM160 401h1v1h-1zM186 401h1v1h-1zM214 401h1v1h-1zM244 401h1v1h-1zM270 401h1v1h-1zM298 401h1v1h-1zM327 401h1v1h-1zM355 401h1v1h-1zM383 401h1v1h-1zM410 401h1v1h-1zM439 401h1v1h-1zM131 402h1v1h-1zM160 402h1v1h-1zM214 402h1v1h-1zM244 402h1v1h-1zM270 402h1v1h-1zM298 402h1v1h-1zM327 402h1v1h-1zM355 402h1v1h-1zM382 402h1v1h-1zM410 402h1v1h-1zM438 402h1v1h-1zM130 403h1v1h-1zM159 403h1v1h-1zM244 403h1v1h-1zM269 403h1v1h-1zM297 403h1v1h-1zM326 403h1v1h-1zM354 403h1v1h-1zM382 403h1v1h-1zM409 403h1v1h-1zM438 403h1v1h-1zM130 404h1v1h-1zM159 404h1v1h-1zM243 404h1v1h-1zM269 404h1v1h-1zM297 404h1v1h-1zM326 404h1v1h-1zM354 404h1v1h-1zM381 404h1v1h-1zM408 404h1v1h-1zM437 404h1v1h-1zM130 405h1v1h-1zM159 405h1v1h-1zM243 405h1v1h-1zM268 405h1v1h-1zM296 405h1v1h-1zM325 405h1v1h-1zM354 405h1v1h-1zM380 405h1v1h-1zM407 405h1v1h-1zM436 405h1v1h-1zM129 406h1v1h-1zM158 406h1v1h-1zM243 406h1v1h-1zM268 406h1v1h-1zM296 406h1v1h-1zM325 406h1v1h-1zM353 406h1v1h-1zM379 406h1v1h-1zM407 406h1v1h-1zM435 406h1v1h-1zM129 407h1v1h-1zM158 407h1v1h-1zM242 407h1v1h-1zM267 407h1v1h-1zM295 407h1v1h-1zM324 407h1v1h-1zM353 407h1v1h-1zM379 407h1v1h-1zM406 407h1v1h-1zM435 407h1v1h-1zM118 408h1v1h-1zM146 408h1v1h-1zM175 408h1v1h-1zM202 408h1v1h-1zM242 408h1v1h-1zM259 408h1v1h-1zM267 408h1v1h-1zM287 408h1v1h-1zM295 408h1v1h-1zM324 408h1v1h-1zM370 408h1v1h-1zM378 408h1v1h-1zM398 408h1v1h-1zM426 408h1v1h-1zM434 408h1v1h-1zM119 409h1v1h-1zM147 409h1v1h-1zM176 409h1v1h-1zM203 409h1v1h-1zM230 409h1v1h-1zM260 409h1v1h-1zM288 409h1v1h-1zM314 409h1v1h-1zM341 409h1v1h-1zM371 409h1v1h-1zM399 409h1v1h-1zM427 409h1v1h-1zM120 410h1v1h-1zM148 410h1v1h-1zM176 410h1v1h-1zM204 410h1v1h-1zM231 410h1v1h-1zM261 410h1v1h-1zM288 410h1v1h-1zM315 410h1v1h-1zM342 410h1v1h-1zM372 410h1v1h-1zM400 410h1v1h-1zM428 410h1v1h-1zM120 411h1v1h-1zM148 411h1v1h-1zM177 411h1v1h-1zM204 411h1v1h-1zM232 411h1v1h-1zM261 411h1v1h-1zM289 411h1v1h-1zM316 411h1v1h-1zM343 411h1v1h-1zM372 411h1v1h-1zM400 411h1v1h-1zM428 411h1v1h-1zM121 412h1v1h-1zM149 412h1v1h-1zM178 412h1v1h-1zM205 412h1v1h-1zM233 412h1v1h-1zM262 412h1v1h-1zM290 412h1v1h-1zM317 412h1v1h-1zM344 412h1v1h-1zM373 412h1v1h-1zM401 412h1v1h-1zM429 412h1v1h-1zM122 413h1v1h-1zM150 413h1v1h-1zM179 413h1v1h-1zM206 413h1v1h-1zM234 413h1v1h-1zM263 413h1v1h-1zM291 413h1v1h-1zM318 413h1v1h-1zM345 413h1v1h-1zM374 413h1v1h-1zM402 413h1v1h-1zM430 413h1v1h-1zM123 414h1v1h-1zM151 414h1v1h-1zM179 414h1v1h-1zM207 414h1v1h-1zM234 414h1v1h-1zM264 414h1v1h-1zM291 414h1v1h-1zM318 414h1v1h-1zM346 414h1v1h-1zM375 414h1v1h-1zM403 414h1v1h-1zM431 414h1v1h-1zM124 415h1v1h-1zM151 415h1v1h-1zM180 415h1v1h-1zM207 415h1v1h-1zM235 415h1v1h-1zM264 415h1v1h-1zM292 415h1v1h-1zM319 415h1v1h-1zM347 415h1v1h-1zM376 415h1v1h-1zM404 415h1v1h-1zM432 415h1v1h-1zM125 416h1v1h-1zM152 416h1v1h-1zM181 416h1v1h-1zM208 416h1v1h-1zM236 416h1v1h-1zM265 416h1v1h-1zM293 416h1v1h-1zM320 416h1v1h-1zM348 416h1v1h-1zM377 416h1v1h-1zM405 416h1v1h-1zM433 416h1v1h-1zM125 417h1v1h-1zM153 417h1v1h-1zM181 417h1v1h-1zM209 417h1v1h-1zM237 417h1v1h-1zM266 417h1v1h-1zM293 417h1v1h-1zM321 417h1v1h-1zM349 417h1v1h-1zM377 417h1v1h-1zM405 417h1v1h-1zM433 417h1v1h-1zM126 418h1v1h-1zM154 418h1v1h-1zM182 418h1v1h-1zM210 418h1v1h-1zM238 418h1v1h-1zM267 418h1v1h-1zM294 418h1v1h-1zM322 418h1v1h-1zM350 418h1v1h-1zM378 418h1v1h-1zM406 418h1v1h-1zM434 418h1v1h-1zM127 419h1v1h-1zM154 419h1v1h-1zM183 419h1v1h-1zM210 419h1v1h-1zM239 419h1v1h-1zM267 419h1v1h-1zM295 419h1v1h-1zM323 419h1v1h-1zM351 419h1v1h-1zM379 419h1v1h-1zM407 419h1v1h-1zM435 419h1v1h-1zM128 420h1v1h-1zM155 420h1v1h-1zM183 420h1v1h-1zM211 420h1v1h-1zM240 420h1v1h-1zM268 420h1v1h-1zM295 420h1v1h-1zM324 420h1v1h-1zM352 420h1v1h-1zM380 420h1v1h-1zM408 420h1v1h-1zM436 420h1v1h-1zM129 421h1v1h-1zM156 421h1v1h-1zM184 421h1v1h-1zM212 421h1v1h-1zM241 421h1v1h-1zM269 421h1v1h-1zM296 421h1v1h-1zM325 421h1v1h-1zM353 421h1v1h-1zM381 421h1v1h-1zM409 421h1v1h-1zM437 421h1v1h-1zM130 422h1v1h-1zM157 422h1v1h-1zM185 422h1v1h-1zM213 422h1v1h-1zM241 422h1v1h-1zM270 422h1v1h-1zM297 422h1v1h-1zM325 422h1v1h-1zM354 422h1v1h-1zM382 422h1v1h-1zM410 422h1v1h-1zM438 422h1v1h-1zM130 423h1v1h-1zM157 423h1v1h-1zM186 423h1v1h-1zM213 423h1v1h-1zM242 423h1v1h-1zM270 423h1v1h-1zM298 423h1v1h-1zM326 423h1v1h-1zM355 423h1v1h-1zM382 423h1v1h-1zM410 423h1v1h-1zM438 423h1v1h-1zM131 424h1v1h-1zM158 424h1v1h-1zM186 424h1v1h-1zM214 424h1v1h-1zM243 424h1v1h-1zM271 424h1v1h-1zM298 424h1v1h-1zM327 424h1v1h-1zM356 424h1v1h-1zM383 424h1v1h-1zM411 424h1v1h-1zM439 424h1v1h-1zM132 425h1v1h-1zM159 425h1v1h-1zM187 425h1v1h-1zM215 425h1v1h-1zM244 425h1v1h-1zM272 425h1v1h-1zM299 425h1v1h-1zM328 425h1v1h-1zM356 425h1v1h-1zM384 425h1v1h-1zM412 425h1v1h-1zM440 425h1v1h-1zM131 426h1v1h-1zM158 426h1v1h-1zM186 426h1v1h-1zM214 426h1v1h-1zM243 426h1v1h-1zM271 426h1v1h-1zM298 426h1v1h-1zM327 426h1v1h-1zM355 426h1v1h-1zM383 426h1v1h-1zM411 426h1v1h-1zM439 426h1v1h-1zM131 427h1v1h-1zM158 427h1v1h-1zM186 427h1v1h-1zM214 427h1v1h-1zM243 427h1v1h-1zM271 427h1v1h-1zM298 427h1v1h-1zM327 427h1v1h-1zM355 427h1v1h-1zM383 427h1v1h-1zM411 427h1v1h-1zM439 427h1v1h-1zM130 428h1v1h-1zM157 428h1v1h-1zM185 428h1v1h-1zM213 428h1v1h-1zM242 428h1v1h-1zM270 428h1v1h-1zM297 428h1v1h-1zM326 428h1v1h-1zM355 428h1v1h-1zM382 428h1v1h-1zM410 428h1v1h-1zM438 428h1v1h-1zM129 429h1v1h-1zM157 429h1v1h-1zM184 429h1v1h-1zM213 429h1v1h-1zM242 429h1v1h-1zM269 429h1v1h-1zM297 429h1v1h-1zM326 429h1v1h-1zM354 429h1v1h-1zM381 429h1v1h-1zM410 429h1v1h-1zM438 429h1v1h-1zM129 430h1v1h-1zM156 430h1v1h-1zM184 430h1v1h-1zM212 430h1v1h-1zM241 430h1v1h-1zM269 430h1v1h-1zM296 430h1v1h-1zM325 430h1v1h-1zM354 430h1v1h-1zM381 430h1v1h-1zM409 430h1v1h-1zM437 430h1v1h-1zM128 431h1v1h-1zM156 431h1v1h-1zM183 431h1v1h-1zM212 431h1v1h-1zM241 431h1v1h-1zM268 431h1v1h-1zM296 431h1v1h-1zM325 431h1v1h-1zM354 431h1v1h-1zM380 431h1v1h-1zM409 431h1v1h-1zM437 431h1v1h-1zM128 432h1v1h-1zM155 432h1v1h-1zM183 432h1v1h-1zM211 432h1v1h-1zM240 432h1v1h-1zM268 432h1v1h-1zM295 432h1v1h-1zM324 432h1v1h-1zM353 432h1v1h-1zM380 432h1v1h-1zM408 432h1v1h-1zM436 432h1v1h-1zM118 433h1v1h-1zM127 433h1v1h-1zM147 433h1v1h-1zM175 433h1v1h-1zM182 433h1v1h-1zM204 433h1v1h-1zM211 433h1v1h-1zM230 433h1v1h-1zM240 433h1v1h-1zM259 433h1v1h-1zM267 433h1v1h-1zM287 433h1v1h-1zM315 433h1v1h-1zM324 433h1v1h-1zM343 433h1v1h-1zM353 433h1v1h-1zM370 433h1v1h-1zM379 433h1v1h-1zM408 433h1v1h-1zM436 433h1v1h-1zM119 434h1v1h-1zM148 434h1v1h-1zM176 434h1v1h-1zM205 434h1v1h-1zM231 434h1v1h-1zM260 434h1v1h-1zM288 434h1v1h-1zM316 434h1v1h-1zM344 434h1v1h-1zM371 434h1v1h-1zM398 434h1v1h-1zM425 434h1v1h-1zM120 435h1v1h-1zM148 435h1v1h-1zM176 435h1v1h-1zM205 435h1v1h-1zM232 435h1v1h-1zM261 435h1v1h-1zM288 435h1v1h-1zM316 435h1v1h-1zM344 435h1v1h-1zM372 435h1v1h-1zM399 435h1v1h-1zM426 435h1v1h-1zM120 436h1v1h-1zM149 436h1v1h-1zM177 436h1v1h-1zM206 436h1v1h-1zM232 436h1v1h-1zM261 436h1v1h-1zM289 436h1v1h-1zM317 436h1v1h-1zM345 436h1v1h-1zM372 436h1v1h-1zM400 436h1v1h-1zM427 436h1v1h-1zM121 437h1v1h-1zM150 437h1v1h-1zM178 437h1v1h-1zM207 437h1v1h-1zM233 437h1v1h-1zM262 437h1v1h-1zM290 437h1v1h-1zM318 437h1v1h-1zM346 437h1v1h-1zM373 437h1v1h-1zM401 437h1v1h-1zM428 437h1v1h-1zM122 438h1v1h-1zM151 438h1v1h-1zM179 438h1v1h-1zM207 438h1v1h-1zM234 438h1v1h-1zM263 438h1v1h-1zM291 438h1v1h-1zM318 438h1v1h-1zM347 438h1v1h-1zM374 438h1v1h-1zM402 438h1v1h-1zM429 438h1v1h-1zM123 439h1v1h-1zM151 439h1v1h-1zM179 439h1v1h-1zM208 439h1v1h-1zM235 439h1v1h-1zM264 439h1v1h-1zM291 439h1v1h-1zM319 439h1v1h-1zM347 439h1v1h-1zM375 439h1v1h-1zM402 439h1v1h-1zM430 439h1v1h-1zM124 440h1v1h-1zM152 440h1v1h-1zM180 440h1v1h-1zM209 440h1v1h-1zM236 440h1v1h-1zM264 440h1v1h-1zM292 440h1v1h-1zM320 440h1v1h-1zM348 440h1v1h-1zM376 440h1v1h-1zM403 440h1v1h-1zM431 440h1v1h-1zM125 441h1v1h-1zM153 441h1v1h-1zM181 441h1v1h-1zM209 441h1v1h-1zM237 441h1v1h-1zM265 441h1v1h-1zM293 441h1v1h-1zM320 441h1v1h-1zM349 441h1v1h-1zM377 441h1v1h-1zM404 441h1v1h-1zM432 441h1v1h-1zM125 442h1v1h-1zM153 442h1v1h-1zM181 442h1v1h-1zM210 442h1v1h-1zM237 442h1v1h-1zM266 442h1v1h-1zM293 442h1v1h-1zM321 442h1v1h-1zM349 442h1v1h-1zM377 442h1v1h-1zM405 442h1v1h-1zM433 442h1v1h-1zM126 443h1v1h-1zM154 443h1v1h-1zM182 443h1v1h-1zM210 443h1v1h-1zM238 443h1v1h-1zM267 443h1v1h-1zM294 443h1v1h-1zM321 443h1v1h-1zM350 443h1v1h-1zM378 443h1v1h-1zM406 443h1v1h-1zM433 443h1v1h-1zM127 444h1v1h-1zM155 444h1v1h-1zM183 444h1v1h-1zM211 444h1v1h-1zM239 444h1v1h-1zM267 444h1v1h-1zM295 444h1v1h-1zM322 444h1v1h-1zM351 444h1v1h-1zM379 444h1v1h-1zM407 444h1v1h-1zM434 444h1v1h-1zM128 445h1v1h-1zM155 445h1v1h-1zM183 445h1v1h-1zM212 445h1v1h-1zM240 445h1v1h-1zM268 445h1v1h-1zM295 445h1v1h-1zM323 445h1v1h-1zM351 445h1v1h-1zM380 445h1v1h-1zM408 445h1v1h-1zM435 445h1v1h-1zM129 446h1v1h-1zM156 446h1v1h-1zM184 446h1v1h-1zM212 446h1v1h-1zM241 446h1v1h-1zM269 446h1v1h-1zM296 446h1v1h-1zM323 446h1v1h-1zM352 446h1v1h-1zM381 446h1v1h-1zM409 446h1v1h-1zM436 446h1v1h-1zM130 447h1v1h-1zM157 447h1v1h-1zM185 447h1v1h-1zM213 447h1v1h-1zM242 447h1v1h-1zM270 447h1v1h-1zM297 447h1v1h-1zM324 447h1v1h-1zM353 447h1v1h-1zM382 447h1v1h-1zM409 447h1v1h-1zM437 447h1v1h-1zM130 448h1v1h-1zM158 448h1v1h-1zM186 448h1v1h-1zM214 448h1v1h-1zM242 448h1v1h-1zM270 448h1v1h-1zM298 448h1v1h-1zM325 448h1v1h-1zM354 448h1v1h-1zM382 448h1v1h-1zM410 448h1v1h-1zM438 448h1v1h-1zM131 449h1v1h-1zM158 449h1v1h-1zM186 449h1v1h-1zM214 449h1v1h-1zM243 449h1v1h-1zM271 449h1v1h-1zM298 449h1v1h-1zM325 449h1v1h-1zM354 449h1v1h-1zM383 449h1v1h-1zM411 449h1v1h-1zM439 449h1v1h-1zM132 450h1v1h-1zM159 450h1v1h-1zM187 450h1v1h-1zM215 450h1v1h-1zM244 450h1v1h-1zM272 450h1v1h-1zM299 450h1v1h-1zM326 450h1v1h-1zM355 450h1v1h-1zM384 450h1v1h-1zM412 450h1v1h-1zM440 450h1v1h-1zM131 451h1v1h-1zM158 451h1v1h-1zM186 451h1v1h-1zM214 451h1v1h-1zM243 451h1v1h-1zM271 451h1v1h-1zM298 451h1v1h-1zM325 451h1v1h-1zM354 451h1v1h-1zM383 451h1v1h-1zM411 451h1v1h-1zM439 451h1v1h-1zM131 452h1v1h-1zM158 452h1v1h-1zM186 452h1v1h-1zM213 452h1v1h-1zM243 452h1v1h-1zM271 452h1v1h-1zM298 452h1v1h-1zM325 452h1v1h-1zM354 452h1v1h-1zM383 452h1v1h-1zM411 452h1v1h-1zM439 452h1v1h-1zM130 453h1v1h-1zM157 453h1v1h-1zM185 453h1v1h-1zM213 453h1v1h-1zM242 453h1v1h-1zM270 453h1v1h-1zM297 453h1v1h-1zM324 453h1v1h-1zM353 453h1v1h-1zM382 453h1v1h-1zM410 453h1v1h-1zM438 453h1v1h-1zM130 454h1v1h-1zM156 454h1v1h-1zM184 454h1v1h-1zM212 454h1v1h-1zM241 454h1v1h-1zM269 454h1v1h-1zM296 454h1v1h-1zM323 454h1v1h-1zM352 454h1v1h-1zM381 454h1v1h-1zM410 454h1v1h-1zM438 454h1v1h-1zM129 455h1v1h-1zM156 455h1v1h-1zM184 455h1v1h-1zM211 455h1v1h-1zM241 455h1v1h-1zM269 455h1v1h-1zM296 455h1v1h-1zM323 455h1v1h-1zM352 455h1v1h-1zM381 455h1v1h-1zM409 455h1v1h-1zM437 455h1v1h-1zM129 456h1v1h-1zM155 456h1v1h-1zM183 456h1v1h-1zM210 456h1v1h-1zM240 456h1v1h-1zM268 456h1v1h-1zM295 456h1v1h-1zM322 456h1v1h-1zM351 456h1v1h-1zM380 456h1v1h-1zM409 456h1v1h-1zM437 456h1v1h-1zM120 457h1v1h-1zM128 457h1v1h-1zM148 457h1v1h-1zM155 457h1v1h-1zM177 457h1v1h-1zM183 457h1v1h-1zM205 457h1v1h-1zM210 457h1v1h-1zM232 457h1v1h-1zM240 457h1v1h-1zM259 457h1v1h-1zM268 457h1v1h-1zM287 457h1v1h-1zM295 457h1v1h-1zM322 457h1v1h-1zM344 457h1v1h-1zM351 457h1v1h-1zM380 457h1v1h-1zM408 457h1v1h-1zM436 457h1v1h-1zM121 458h1v1h-1zM128 458h1v1h-1zM149 458h1v1h-1zM154 458h1v1h-1zM177 458h1v1h-1zM182 458h1v1h-1zM205 458h1v1h-1zM209 458h1v1h-1zM233 458h1v1h-1zM239 458h1v1h-1zM260 458h1v1h-1zM267 458h1v1h-1zM288 458h1v1h-1zM294 458h1v1h-1zM315 458h1v1h-1zM321 458h1v1h-1zM345 458h1v1h-1zM350 458h1v1h-1zM371 458h1v1h-1zM379 458h1v1h-1zM398 458h1v1h-1zM408 458h1v1h-1zM426 458h1v1h-1zM436 458h1v1h-1zM121 459h1v1h-1zM149 459h1v1h-1zM178 459h1v1h-1zM206 459h1v1h-1zM233 459h1v1h-1zM260 459h1v1h-1zM288 459h1v1h-1zM316 459h1v1h-1zM345 459h1v1h-1zM372 459h1v1h-1zM399 459h1v1h-1zM427 459h1v1h-1zM122 460h1v1h-1zM150 460h1v1h-1zM178 460h1v1h-1zM206 460h1v1h-1zM234 460h1v1h-1zM261 460h1v1h-1zM289 460h1v1h-1zM316 460h1v1h-1zM346 460h1v1h-1zM372 460h1v1h-1zM400 460h1v1h-1zM428 460h1v1h-1zM122 461h1v1h-1zM150 461h1v1h-1zM179 461h1v1h-1zM207 461h1v1h-1zM234 461h1v1h-1zM262 461h1v1h-1zM290 461h1v1h-1zM317 461h1v1h-1zM346 461h1v1h-1zM373 461h1v1h-1zM400 461h1v1h-1zM428 461h1v1h-1zM123 462h1v1h-1zM151 462h1v1h-1zM179 462h1v1h-1zM207 462h1v1h-1zM235 462h1v1h-1zM262 462h1v1h-1zM290 462h1v1h-1zM318 462h1v1h-1zM347 462h1v1h-1zM374 462h1v1h-1zM401 462h1v1h-1zM429 462h1v1h-1zM123 463h1v1h-1zM151 463h1v1h-1zM180 463h1v1h-1zM208 463h1v1h-1zM235 463h1v1h-1zM263 463h1v1h-1zM291 463h1v1h-1zM319 463h1v1h-1zM347 463h1v1h-1zM375 463h1v1h-1zM402 463h1v1h-1zM430 463h1v1h-1zM124 464h1v1h-1zM152 464h1v1h-1zM180 464h1v1h-1zM208 464h1v1h-1zM236 464h1v1h-1zM263 464h1v1h-1zM291 464h1v1h-1zM319 464h1v1h-1zM348 464h1v1h-1zM375 464h1v1h-1zM403 464h1v1h-1zM431 464h1v1h-1zM124 465h1v1h-1zM152 465h1v1h-1zM181 465h1v1h-1zM209 465h1v1h-1zM236 465h1v1h-1zM264 465h1v1h-1zM292 465h1v1h-1zM320 465h1v1h-1zM349 465h1v1h-1zM376 465h1v1h-1zM404 465h1v1h-1zM431 465h1v1h-1zM125 466h1v1h-1zM153 466h1v1h-1zM181 466h1v1h-1zM209 466h1v1h-1zM237 466h1v1h-1zM265 466h1v1h-1zM293 466h1v1h-1zM321 466h1v1h-1zM349 466h1v1h-1zM377 466h1v1h-1zM405 466h1v1h-1zM432 466h1v1h-1zM125 467h1v1h-1zM153 467h1v1h-1zM182 467h1v1h-1zM210 467h1v1h-1zM237 467h1v1h-1zM265 467h1v1h-1zM293 467h1v1h-1zM321 467h1v1h-1zM350 467h1v1h-1zM377 467h1v1h-1zM405 467h1v1h-1zM433 467h1v1h-1zM126 468h1v1h-1zM154 468h1v1h-1zM182 468h1v1h-1zM210 468h1v1h-1zM238 468h1v1h-1zM266 468h1v1h-1zM294 468h1v1h-1zM322 468h1v1h-1zM350 468h1v1h-1zM378 468h1v1h-1zM406 468h1v1h-1zM434 468h1v1h-1zM126 469h1v1h-1zM154 469h1v1h-1zM183 469h1v1h-1zM211 469h1v1h-1zM238 469h1v1h-1zM267 469h1v1h-1zM295 469h1v1h-1zM323 469h1v1h-1zM351 469h1v1h-1zM379 469h1v1h-1zM407 469h1v1h-1zM434 469h1v1h-1zM127 470h1v1h-1zM155 470h1v1h-1zM183 470h1v1h-1zM211 470h1v1h-1zM239 470h1v1h-1zM267 470h1v1h-1zM295 470h1v1h-1zM323 470h1v1h-1zM352 470h1v1h-1zM379 470h1v1h-1zM408 470h1v1h-1zM435 470h1v1h-1zM127 471h1v1h-1zM155 471h1v1h-1zM184 471h1v1h-1zM212 471h1v1h-1zM239 471h1v1h-1zM268 471h1v1h-1zM296 471h1v1h-1zM324 471h1v1h-1zM352 471h1v1h-1zM380 471h1v1h-1zM409 471h1v1h-1zM436 471h1v1h-1zM128 472h1v1h-1zM156 472h1v1h-1zM184 472h1v1h-1zM212 472h1v1h-1zM240 472h1v1h-1zM268 472h1v1h-1zM296 472h1v1h-1zM325 472h1v1h-1zM353 472h1v1h-1zM381 472h1v1h-1zM410 472h1v1h-1zM437 472h1v1h-1zM128 473h1v1h-1zM156 473h1v1h-1zM185 473h1v1h-1zM213 473h1v1h-1zM240 473h1v1h-1zM269 473h1v1h-1zM297 473h1v1h-1zM326 473h1v1h-1zM353 473h1v1h-1zM382 473h1v1h-1zM410 473h1v1h-1zM437 473h1v1h-1zM129 474h1v1h-1zM157 474h1v1h-1zM185 474h1v1h-1zM213 474h1v1h-1zM241 474h1v1h-1zM270 474h1v1h-1zM298 474h1v1h-1zM326 474h1v1h-1zM354 474h1v1h-1zM382 474h1v1h-1zM411 474h1v1h-1zM438 474h1v1h-1zM129 475h1v1h-1zM157 475h1v1h-1zM186 475h1v1h-1zM214 475h1v1h-1zM241 475h1v1h-1zM270 475h1v1h-1zM298 475h1v1h-1zM327 475h1v1h-1zM354 475h1v1h-1zM383 475h1v1h-1zM412 475h1v1h-1zM439 475h1v1h-1zM130 476h1v1h-1zM158 476h1v1h-1zM186 476h1v1h-1zM214 476h1v1h-1zM242 476h1v1h-1zM271 476h1v1h-1zM299 476h1v1h-1zM326 476h1v1h-1zM355 476h1v1h-1zM382 476h1v1h-1zM411 476h1v1h-1zM438 476h1v1h-1zM129 477h1v1h-1zM157 477h1v1h-1zM185 477h1v1h-1zM213 477h1v1h-1zM241 477h1v1h-1zM270 477h1v1h-1zM298 477h1v1h-1zM326 477h1v1h-1zM354 477h1v1h-1zM382 477h1v1h-1zM411 477h1v1h-1zM438 477h1v1h-1zM128 478h1v1h-1zM156 478h1v1h-1zM184 478h1v1h-1zM212 478h1v1h-1zM241 478h1v1h-1zM270 478h1v1h-1zM297 478h1v1h-1zM325 478h1v1h-1zM353 478h1v1h-1zM381 478h1v1h-1zM410 478h1v1h-1zM437 478h1v1h-1zM127 479h1v1h-1zM155 479h1v1h-1zM183 479h1v1h-1zM211 479h1v1h-1zM240 479h1v1h-1zM269 479h1v1h-1zM296 479h1v1h-1zM324 479h1v1h-1zM352 479h1v1h-1zM380 479h1v1h-1zM410 479h1v1h-1zM437 479h1v1h-1zM127 480h1v1h-1zM155 480h1v1h-1zM183 480h1v1h-1zM211 480h1v1h-1zM239 480h1v1h-1zM268 480h1v1h-1zM296 480h1v1h-1zM324 480h1v1h-1zM352 480h1v1h-1zM380 480h1v1h-1zM409 480h1v1h-1zM436 480h1v1h-1zM126 481h1v1h-1zM154 481h1v1h-1zM182 481h1v1h-1zM210 481h1v1h-1zM238 481h1v1h-1zM267 481h1v1h-1zM295 481h1v1h-1zM323 481h1v1h-1zM351 481h1v1h-1zM379 481h1v1h-1zM409 481h1v1h-1zM436 481h1v1h-1zM120 482h1v1h-1zM125 482h1v1h-1zM148 482h1v1h-1zM153 482h1v1h-1zM176 482h1v1h-1zM181 482h1v1h-1zM205 482h1v1h-1zM209 482h1v1h-1zM231 482h1v1h-1zM238 482h1v1h-1zM259 482h1v1h-1zM267 482h1v1h-1zM294 482h1v1h-1zM315 482h1v1h-1zM323 482h1v1h-1zM350 482h1v1h-1zM379 482h1v1h-1zM408 482h1v1h-1zM435 482h1v1h-1zM121 483h1v1h-1zM124 483h1v1h-1zM149 483h1v1h-1zM152 483h1v1h-1zM177 483h1v1h-1zM180 483h1v1h-1zM205 483h1v1h-1zM208 483h1v1h-1zM232 483h1v1h-1zM237 483h1v1h-1zM260 483h1v1h-1zM266 483h1v1h-1zM287 483h1v1h-1zM293 483h1v1h-1zM316 483h1v1h-1zM322 483h1v1h-1zM343 483h1v1h-1zM349 483h1v1h-1zM370 483h1v1h-1zM378 483h1v1h-1zM398 483h1v1h-1zM408 483h1v1h-1zM426 483h1v1h-1zM435 483h1v1h-1zM121 484h1v1h-1zM149 484h1v1h-1zM177 484h1v1h-1zM206 484h1v1h-1zM232 484h1v1h-1zM260 484h1v1h-1zM288 484h1v1h-1zM316 484h1v1h-1zM344 484h1v1h-1zM371 484h1v1h-1zM399 484h1v1h-1zM427 484h1v1h-1zM122 485h1v1h-1zM150 485h1v1h-1zM178 485h1v1h-1zM206 485h1v1h-1zM233 485h1v1h-1zM261 485h1v1h-1zM288 485h1v1h-1zM317 485h1v1h-1zM344 485h1v1h-1zM372 485h1v1h-1zM400 485h1v1h-1zM428 485h1v1h-1zM122 486h1v1h-1zM150 486h1v1h-1zM178 486h1v1h-1zM207 486h1v1h-1zM234 486h1v1h-1zM262 486h1v1h-1zM289 486h1v1h-1zM318 486h1v1h-1zM345 486h1v1h-1zM372 486h1v1h-1zM400 486h1v1h-1zM428 486h1v1h-1zM123 487h1v1h-1zM151 487h1v1h-1zM179 487h1v1h-1zM207 487h1v1h-1zM234 487h1v1h-1zM262 487h1v1h-1zM289 487h1v1h-1zM318 487h1v1h-1zM346 487h1v1h-1zM373 487h1v1h-1zM401 487h1v1h-1zM429 487h1v1h-1zM123 488h1v1h-1zM151 488h1v1h-1zM179 488h1v1h-1zM208 488h1v1h-1zM235 488h1v1h-1zM263 488h1v1h-1zM290 488h1v1h-1zM319 488h1v1h-1zM347 488h1v1h-1zM374 488h1v1h-1zM402 488h1v1h-1zM430 488h1v1h-1zM124 489h1v1h-1zM152 489h1v1h-1zM180 489h1v1h-1zM208 489h1v1h-1zM235 489h1v1h-1zM263 489h1v1h-1zM291 489h1v1h-1zM320 489h1v1h-1zM347 489h1v1h-1zM375 489h1v1h-1zM403 489h1v1h-1zM431 489h1v1h-1zM124 490h1v1h-1zM152 490h1v1h-1zM180 490h1v1h-1zM209 490h1v1h-1zM236 490h1v1h-1zM264 490h1v1h-1zM291 490h1v1h-1zM320 490h1v1h-1zM348 490h1v1h-1zM376 490h1v1h-1zM404 490h1v1h-1zM431 490h1v1h-1zM125 491h1v1h-1zM153 491h1v1h-1zM181 491h1v1h-1zM209 491h1v1h-1zM237 491h1v1h-1zM265 491h1v1h-1zM292 491h1v1h-1zM321 491h1v1h-1zM349 491h1v1h-1zM377 491h1v1h-1zM405 491h1v1h-1zM432 491h1v1h-1zM125 492h1v1h-1zM153 492h1v1h-1zM181 492h1v1h-1zM210 492h1v1h-1zM237 492h1v1h-1zM265 492h1v1h-1zM293 492h1v1h-1zM322 492h1v1h-1zM349 492h1v1h-1zM377 492h1v1h-1zM405 492h1v1h-1zM433 492h1v1h-1zM126 493h1v1h-1zM154 493h1v1h-1zM182 493h1v1h-1zM210 493h1v1h-1zM238 493h1v1h-1zM266 493h1v1h-1zM293 493h1v1h-1zM322 493h1v1h-1zM350 493h1v1h-1zM378 493h1v1h-1zM406 493h1v1h-1zM434 493h1v1h-1zM126 494h1v1h-1zM154 494h1v1h-1zM182 494h1v1h-1zM211 494h1v1h-1zM239 494h1v1h-1zM267 494h1v1h-1zM294 494h1v1h-1zM323 494h1v1h-1zM351 494h1v1h-1zM379 494h1v1h-1zM407 494h1v1h-1zM434 494h1v1h-1zM127 495h1v1h-1zM155 495h1v1h-1zM183 495h1v1h-1zM211 495h1v1h-1zM239 495h1v1h-1zM267 495h1v1h-1zM294 495h1v1h-1zM324 495h1v1h-1zM351 495h1v1h-1zM380 495h1v1h-1zM408 495h1v1h-1zM435 495h1v1h-1zM127 496h1v1h-1zM155 496h1v1h-1zM183 496h1v1h-1zM212 496h1v1h-1zM240 496h1v1h-1zM268 496h1v1h-1zM295 496h1v1h-1zM324 496h1v1h-1zM352 496h1v1h-1zM381 496h1v1h-1zM409 496h1v1h-1zM436 496h1v1h-1zM128 497h1v1h-1zM156 497h1v1h-1zM184 497h1v1h-1zM212 497h1v1h-1zM240 497h1v1h-1zM268 497h1v1h-1zM296 497h1v1h-1zM325 497h1v1h-1zM353 497h1v1h-1zM382 497h1v1h-1zM410 497h1v1h-1zM437 497h1v1h-1zM128 498h1v1h-1zM156 498h1v1h-1zM184 498h1v1h-1zM213 498h1v1h-1zM241 498h1v1h-1zM269 498h1v1h-1zM296 498h1v1h-1zM326 498h1v1h-1zM354 498h1v1h-1zM382 498h1v1h-1zM410 498h1v1h-1zM437 498h1v1h-1zM129 499h1v1h-1zM157 499h1v1h-1zM185 499h1v1h-1zM213 499h1v1h-1zM242 499h1v1h-1zM270 499h1v1h-1zM297 499h1v1h-1zM326 499h1v1h-1zM354 499h1v1h-1zM383 499h1v1h-1zM411 499h1v1h-1zM438 499h1v1h-1zM129 500h1v1h-1zM157 500h1v1h-1zM185 500h1v1h-1zM214 500h1v1h-1zM242 500h1v1h-1zM270 500h1v1h-1zM297 500h1v1h-1zM327 500h1v1h-1zM355 500h1v1h-1zM384 500h1v1h-1zM412 500h1v1h-1zM439 500h1v1h-1zM130 501h1v1h-1zM158 501h1v1h-1zM186 501h1v1h-1zM214 501h1v1h-1zM243 501h1v1h-1zM271 501h1v1h-1zM298 501h1v1h-1zM326 501h1v1h-1zM354 501h1v1h-1zM383 501h1v1h-1zM411 501h1v1h-1zM438 501h1v1h-1zM129 502h1v1h-1zM157 502h1v1h-1zM185 502h1v1h-1zM213 502h1v1h-1zM242 502h1v1h-1zM270 502h1v1h-1zM297 502h1v1h-1zM326 502h1v1h-1zM354 502h1v1h-1zM383 502h1v1h-1zM411 502h1v1h-1zM438 502h1v1h-1zM128 503h1v1h-1zM156 503h1v1h-1zM184 503h1v1h-1zM212 503h1v1h-1zM242 503h1v1h-1zM270 503h1v1h-1zM297 503h1v1h-1zM325 503h1v1h-1zM353 503h1v1h-1zM382 503h1v1h-1zM410 503h1v1h-1zM437 503h1v1h-1zM127 504h1v1h-1zM155 504h1v1h-1zM183 504h1v1h-1zM211 504h1v1h-1zM241 504h1v1h-1zM269 504h1v1h-1zM296 504h1v1h-1zM324 504h1v1h-1zM353 504h1v1h-1zM381 504h1v1h-1zM410 504h1v1h-1zM437 504h1v1h-1zM127 505h1v1h-1zM155 505h1v1h-1zM183 505h1v1h-1zM211 505h1v1h-1zM240 505h1v1h-1zM268 505h1v1h-1zM295 505h1v1h-1zM324 505h1v1h-1zM352 505h1v1h-1zM381 505h1v1h-1zM409 505h1v1h-1zM436 505h1v1h-1zM126 506h1v1h-1zM154 506h1v1h-1zM182 506h1v1h-1zM210 506h1v1h-1zM239 506h1v1h-1zM267 506h1v1h-1zM294 506h1v1h-1zM323 506h1v1h-1zM352 506h1v1h-1zM380 506h1v1h-1zM409 506h1v1h-1zM436 506h1v1h-1zM120 507h1v1h-1zM125 507h1v1h-1zM153 507h1v1h-1zM181 507h1v1h-1zM209 507h1v1h-1zM239 507h1v1h-1zM267 507h1v1h-1zM294 507h1v1h-1zM323 507h1v1h-1zM351 507h1v1h-1zM380 507h1v1h-1zM408 507h1v1h-1zM435 507h1v1h-1zM121 508h1v1h-1zM124 508h1v1h-1zM148 508h1v1h-1zM152 508h1v1h-1zM175 508h1v1h-1zM180 508h1v1h-1zM204 508h1v1h-1zM208 508h1v1h-1zM231 508h1v1h-1zM238 508h1v1h-1zM258 508h1v1h-1zM266 508h1v1h-1zM286 508h1v1h-1zM293 508h1v1h-1zM314 508h1v1h-1zM322 508h1v1h-1zM351 508h1v1h-1zM379 508h1v1h-1zM408 508h1v1h-1zM435 508h1v1h-1zM121 509h1v1h-1zM149 509h1v1h-1zM176 509h1v1h-1zM205 509h1v1h-1zM232 509h1v1h-1zM259 509h1v1h-1zM287 509h1v1h-1zM315 509h1v1h-1zM122 510h1v1h-1zM149 510h1v1h-1zM176 510h1v1h-1zM205 510h1v1h-1zM233 510h1v1h-1zM260 510h1v1h-1zM288 510h1v1h-1zM316 510h1v1h-1zM341 510h1v1h-1zM122 511h1v1h-1zM150 511h1v1h-1zM177 511h1v1h-1zM206 511h1v1h-1zM233 511h1v1h-1zM260 511h1v1h-1zM288 511h1v1h-1zM316 511h1v1h-1zM342 511h1v1h-1zM368 511h1v1h-1zM396 511h1v1h-1zM424 511h1v1h-1zM123 512h1v1h-1zM150 512h1v1h-1zM178 512h1v1h-1zM206 512h1v1h-1zM234 512h1v1h-1zM261 512h1v1h-1zM289 512h1v1h-1zM317 512h1v1h-1zM343 512h1v1h-1zM369 512h2v1h-2zM397 512h2v1h-2zM425 512h2v1h-2zM123 513h1v1h-1zM151 513h1v1h-1zM178 513h1v1h-1zM207 513h1v1h-1zM235 513h1v1h-1zM262 513h1v1h-1zM290 513h1v1h-1zM318 513h1v1h-1zM344 513h1v1h-1zM371 513h1v1h-1zM399 513h1v1h-1zM427 513h1v1h-1zM124 514h1v1h-1zM152 514h1v1h-1zM179 514h1v1h-1zM208 514h1v1h-1zM236 514h1v1h-1zM263 514h1v1h-1zM291 514h1v1h-1zM319 514h1v1h-1zM345 514h2v1h-2zM372 514h1v1h-1zM400 514h2v1h-2zM428 514h2v1h-2zM125 515h1v1h-1zM152 515h1v1h-1zM180 515h1v1h-1zM208 515h1v1h-1zM236 515h1v1h-1zM264 515h1v1h-1zM292 515h1v1h-1zM320 515h1v1h-1zM347 515h1v1h-1zM373 515h2v1h-2zM402 515h1v1h-1zM430 515h1v1h-1zM125 516h1v1h-1zM153 516h1v1h-1zM180 516h1v1h-1zM209 516h1v1h-1zM237 516h1v1h-1zM265 516h1v1h-1zM293 516h1v1h-1zM321 516h1v1h-1zM348 516h1v1h-1zM375 516h1v1h-1zM403 516h2v1h-2zM431 516h2v1h-2zM126 517h1v1h-1zM154 517h1v1h-1zM181 517h1v1h-1zM210 517h1v1h-1zM238 517h1v1h-1zM265 517h1v1h-1zM293 517h1v1h-1zM321 517h1v1h-1zM349 517h1v1h-1zM376 517h2v1h-2zM405 517h1v1h-1zM433 517h1v1h-1zM126 518h1v1h-1zM154 518h1v1h-1zM182 518h1v1h-1zM210 518h1v1h-1zM239 518h1v1h-1zM266 518h1v1h-1zM294 518h1v1h-1zM322 518h1v1h-1zM350 518h1v1h-1zM378 518h1v1h-1zM406 518h2v1h-2zM434 518h2v1h-2zM127 519h1v1h-1zM155 519h1v1h-1zM182 519h1v1h-1zM211 519h1v1h-1zM239 519h1v1h-1zM267 519h1v1h-1zM295 519h1v1h-1zM323 519h1v1h-1zM351 519h1v1h-1zM379 519h2v1h-2zM408 519h1v1h-1zM436 519h1v1h-1zM128 520h1v1h-1zM155 520h1v1h-1zM183 520h1v1h-1zM211 520h1v1h-1zM240 520h1v1h-1zM268 520h1v1h-1zM296 520h1v1h-1zM324 520h1v1h-1zM352 520h1v1h-1zM381 520h1v1h-1zM409 520h2v1h-2zM437 520h2v1h-2zM128 521h1v1h-1zM156 521h1v1h-1zM184 521h1v1h-1zM212 521h1v1h-1zM241 521h1v1h-1zM269 521h1v1h-1zM297 521h1v1h-1zM325 521h1v1h-1zM353 521h2v1h-2zM382 521h1v1h-1zM411 521h1v1h-1zM439 521h1v1h-1zM129 522h1v1h-1zM157 522h1v1h-1zM184 522h1v1h-1zM213 522h1v1h-1zM242 522h1v1h-1zM270 522h1v1h-1zM298 522h1v1h-1zM326 522h1v1h-1zM355 522h1v1h-1zM383 522h2v1h-2zM412 522h2v1h-2zM440 522h2v1h-2zM129 523h1v1h-1zM157 523h1v1h-1zM185 523h1v1h-1zM213 523h1v1h-1zM242 523h1v1h-1zM270 523h1v1h-1zM298 523h1v1h-1zM326 523h1v1h-1zM356 523h1v1h-1zM385 523h1v1h-1zM414 523h1v1h-1zM442 523h1v1h-1zM130 524h1v1h-1zM158 524h1v1h-1zM186 524h1v1h-1zM214 524h1v1h-1zM243 524h1v1h-1zM271 524h1v1h-1zM299 524h1v1h-1zM327 524h1v1h-1zM357 524h1v1h-1zM385 524h1v1h-1zM414 524h1v1h-1zM442 524h1v1h-1zM130 525h1v1h-1zM158 525h1v1h-1zM186 525h1v1h-1zM214 525h1v1h-1zM244 525h1v1h-1zM272 525h1v1h-1zM300 525h1v1h-1zM328 525h1v1h-1zM357 525h1v1h-1zM385 525h1v1h-1zM414 525h1v1h-1zM442 525h1v1h-1zM131 526h1v1h-1zM159 526h1v1h-1zM187 526h1v1h-1zM215 526h1v1h-1zM243 526h1v1h-1zM271 526h1v1h-1zM299 526h1v1h-1zM327 526h1v1h-1zM356 526h1v1h-1zM384 526h1v1h-1zM413 526h1v1h-1zM442 526h1v1h-1zM130 527h1v1h-1zM158 527h1v1h-1zM186 527h1v1h-1zM214 527h1v1h-1zM243 527h1v1h-1zM271 527h1v1h-1zM299 527h1v1h-1zM327 527h1v1h-1zM356 527h1v1h-1zM384 527h1v1h-1zM413 527h1v1h-1zM442 527h1v1h-1zM129 528h1v1h-1zM157 528h1v1h-1zM185 528h1v1h-1zM213 528h1v1h-1zM242 528h1v1h-1zM270 528h1v1h-1zM298 528h1v1h-1zM326 528h1v1h-1zM356 528h1v1h-1zM384 528h1v1h-1zM413 528h1v1h-1zM441 528h1v1h-1zM128 529h1v1h-1zM156 529h1v1h-1zM184 529h1v1h-1zM212 529h1v1h-1zM241 529h1v1h-1zM269 529h1v1h-1zM297 529h1v1h-1zM325 529h1v1h-1zM355 529h1v1h-1zM384 529h1v1h-1zM413 529h1v1h-1zM441 529h1v1h-1zM128 530h1v1h-1zM156 530h1v1h-1zM184 530h1v1h-1zM212 530h1v1h-1zM241 530h1v1h-1zM269 530h1v1h-1zM297 530h1v1h-1zM325 530h1v1h-1zM355 530h1v1h-1zM383 530h1v1h-1zM412 530h1v1h-1zM441 530h1v1h-1zM127 531h1v1h-1zM155 531h1v1h-1zM183 531h1v1h-1zM211 531h1v1h-1zM240 531h1v1h-1zM268 531h1v1h-1zM296 531h1v1h-1zM324 531h1v1h-1zM355 531h1v1h-1zM383 531h1v1h-1zM412 531h1v1h-1zM441 531h1v1h-1zM126 532h1v1h-1zM154 532h1v1h-1zM182 532h1v1h-1zM210 532h1v1h-1zM240 532h1v1h-1zM268 532h1v1h-1zM296 532h1v1h-1zM324 532h1v1h-1zM354 532h1v1h-1zM383 532h1v1h-1zM412 532h1v1h-1zM441 532h1v1h-1zM119 533h1v1h-1zM125 533h1v1h-1zM153 533h1v1h-1zM174 533h1v1h-1zM181 533h1v1h-1zM202 533h1v1h-1zM209 533h1v1h-1zM239 533h1v1h-1zM267 533h1v1h-1zM295 533h1v1h-1zM323 533h1v1h-1zM354 533h1v1h-1zM120 534h1v1h-1zM146 534h1v1h-1zM175 534h1v1h-1zM203 534h1v1h-1zM229 534h1v1h-1zM120 535h1v1h-1zM147 535h1v1h-1zM176 535h1v1h-1zM204 535h1v1h-1zM230 535h1v1h-1zM257 535h1v1h-1zM284 535h1v1h-1zM312 535h1v1h-1zM121 536h1v1h-1zM148 536h1v1h-1zM176 536h1v1h-1zM204 536h1v1h-1zM231 536h1v1h-1zM258 536h1v1h-1zM285 536h1v1h-1zM313 536h1v1h-1zM424 536h1v1h-1zM122 537h1v1h-1zM149 537h1v1h-1zM177 537h1v1h-1zM205 537h1v1h-1zM232 537h1v1h-1zM259 537h1v1h-1zM286 537h2v1h-2zM314 537h2v1h-2zM425 537h2v1h-2zM123 538h1v1h-1zM150 538h1v1h-1zM178 538h1v1h-1zM206 538h1v1h-1zM233 538h1v1h-1zM260 538h1v1h-1zM288 538h1v1h-1zM316 538h1v1h-1zM339 538h2v1h-2zM367 538h2v1h-2zM395 538h2v1h-2zM427 538h2v1h-2zM123 539h1v1h-1zM150 539h1v1h-1zM179 539h1v1h-1zM207 539h1v1h-1zM234 539h1v1h-1zM261 539h2v1h-2zM289 539h1v1h-1zM317 539h1v1h-1zM341 539h2v1h-2zM369 539h2v1h-2zM397 539h2v1h-2zM429 539h1v1h-1zM124 540h1v1h-1zM151 540h1v1h-1zM179 540h1v1h-1zM208 540h1v1h-1zM235 540h1v1h-1zM263 540h1v1h-1zM290 540h2v1h-2zM318 540h2v1h-2zM343 540h2v1h-2zM371 540h2v1h-2zM399 540h2v1h-2zM430 540h2v1h-2zM125 541h1v1h-1zM152 541h1v1h-1zM180 541h1v1h-1zM209 541h1v1h-1zM236 541h1v1h-1zM264 541h1v1h-1zM292 541h1v1h-1zM320 541h1v1h-1zM345 541h3v1h-3zM373 541h3v1h-3zM401 541h2v1h-2zM432 541h1v1h-1zM125 542h1v1h-1zM153 542h1v1h-1zM181 542h1v1h-1zM209 542h1v1h-1zM237 542h1v1h-1zM265 542h1v1h-1zM293 542h1v1h-1zM321 542h1v1h-1zM348 542h2v1h-2zM376 542h2v1h-2zM403 542h2v1h-2zM433 542h2v1h-2zM126 543h1v1h-1zM154 543h1v1h-1zM182 543h1v1h-1zM210 543h1v1h-1zM237 543h1v1h-1zM266 543h1v1h-1zM294 543h2v1h-2zM322 543h2v1h-2zM350 543h3v1h-3zM378 543h3v1h-3zM405 543h2v1h-2zM435 543h2v1h-2zM127 544h1v1h-1zM155 544h1v1h-1zM182 544h1v1h-1zM211 544h1v1h-1zM238 544h1v1h-1zM267 544h1v1h-1zM296 544h1v1h-1zM324 544h1v1h-1zM353 544h2v1h-2zM381 544h2v1h-2zM407 544h2v1h-2zM437 544h1v1h-1zM127 545h1v1h-1zM156 545h1v1h-1zM183 545h1v1h-1zM212 545h1v1h-1zM239 545h1v1h-1zM268 545h1v1h-1zM297 545h1v1h-1zM325 545h1v1h-1zM355 545h2v1h-2zM383 545h2v1h-2zM409 545h2v1h-2zM438 545h2v1h-2zM128 546h1v1h-1zM157 546h1v1h-1zM184 546h1v1h-1zM213 546h1v1h-1zM240 546h1v1h-1zM269 546h2v1h-2zM298 546h2v1h-2zM326 546h2v1h-2zM356 546h3v1h-3zM384 546h3v1h-3zM411 546h2v1h-2zM440 546h2v1h-2zM129 547h1v1h-1zM157 547h1v1h-1zM185 547h1v1h-1zM214 547h1v1h-1zM241 547h1v1h-1zM271 547h1v1h-1zM299 547h2v1h-2zM327 547h2v1h-2zM356 547h1v1h-1zM384 547h1v1h-1zM412 547h3v1h-3zM442 547h1v1h-1zM130 548h1v1h-1zM158 548h1v1h-1zM185 548h2v1h-2zM214 548h1v1h-1zM242 548h1v1h-1zM271 548h2v1h-2zM299 548h1v1h-1zM301 548h1v1h-1zM327 548h1v1h-1zM329 548h1v1h-1zM356 548h1v1h-1zM384 548h1v1h-1zM412 548h1v1h-1zM442 548h1v1h-1zM130 549h1v1h-1zM159 549h1v1h-1zM185 549h2v1h-2zM213 549h1v1h-1zM215 549h1v1h-1zM241 549h1v1h-1zM243 549h1v1h-1zM270 549h1v1h-1zM273 549h1v1h-1zM299 549h1v1h-1zM327 549h1v1h-1zM356 549h1v1h-1zM384 549h1v1h-1zM412 549h1v1h-1zM442 549h1v1h-1zM131 550h1v1h-1zM160 550h1v1h-1zM184 550h1v1h-1zM187 550h1v1h-1zM213 550h1v1h-1zM216 550h1v1h-1zM241 550h1v1h-1zM244 550h1v1h-1zM270 550h1v1h-1zM298 550h1v1h-1zM326 550h1v1h-1zM356 550h1v1h-1zM384 550h1v1h-1zM412 550h1v1h-1zM441 550h1v1h-1zM130 551h1v1h-1zM159 551h1v1h-1zM184 551h1v1h-1zM212 551h1v1h-1zM240 551h1v1h-1zM269 551h1v1h-1zM298 551h1v1h-1zM326 551h1v1h-1zM412 551h1v1h-1zM441 551h1v1h-1zM130 552h1v1h-1zM159 552h1v1h-1zM183 552h1v1h-1zM212 552h1v1h-1zM240 552h1v1h-1zM269 552h1v1h-1zM298 552h1v1h-1zM326 552h1v1h-1zM441 552h1v1h-1zM129 553h1v1h-1zM158 553h1v1h-1zM211 553h1v1h-1zM441 553h1v1h-1zM128 554h1v1h-1zM157 554h1v1h-1zM440 554h1v1h-1zM128 555h1v1h-1zM157 555h1v1h-1zM440 555h1v1h-1zM127 556h1v1h-1zM156 556h1v1h-1zM440 556h1v1h-1zM127 557h1v1h-1zM156 557h1v1h-1zM126 558h1v1h-1zM155 558h1v1h-1zM146 559h1v1h-1zM173 559h1v1h-1zM116 560h1v1h-1zM147 560h1v1h-1zM174 560h1v1h-1zM200 560h1v1h-1zM117 561h1v1h-1zM148 561h1v1h-1zM175 561h1v1h-1zM201 561h1v1h-1zM118 562h2v1h-2zM149 562h1v1h-1zM176 562h1v1h-1zM202 562h2v1h-2zM227 562h1v1h-1zM120 563h1v1h-1zM150 563h1v1h-1zM177 563h1v1h-1zM204 563h1v1h-1zM228 563h2v1h-2zM254 563h2v1h-2zM311 563h2v1h-2zM423 563h2v1h-2zM121 564h1v1h-1zM150 564h1v1h-1zM178 564h1v1h-1zM205 564h1v1h-1zM230 564h2v1h-2zM256 564h2v1h-2zM282 564h2v1h-2zM313 564h2v1h-2zM338 564h2v1h-2zM394 564h2v1h-2zM425 564h2v1h-2zM122 565h1v1h-1zM151 565h1v1h-1zM179 565h1v1h-1zM206 565h2v1h-2zM232 565h2v1h-2zM258 565h3v1h-3zM284 565h4v1h-4zM315 565h2v1h-2zM340 565h4v1h-4zM366 565h3v1h-3zM396 565h4v1h-4zM427 565h2v1h-2zM123 566h1v1h-1zM152 566h1v1h-1zM180 566h1v1h-1zM208 566h1v1h-1zM234 566h2v1h-2zM261 566h3v1h-3zM288 566h3v1h-3zM317 566h3v1h-3zM344 566h3v1h-3zM369 566h5v1h-5zM400 566h3v1h-3zM429 566h3v1h-3zM124 567h2v1h-2zM153 567h1v1h-1zM181 567h1v1h-1zM209 567h1v1h-1zM236 567h2v1h-2zM264 567h2v1h-2zM291 567h4v1h-4zM320 567h2v1h-2zM347 567h4v1h-4zM374 567h6v1h-6zM403 567h4v1h-4zM432 567h2v1h-2zM126 568h1v1h-1zM154 568h1v1h-1zM182 568h1v1h-1zM210 568h2v1h-2zM238 568h2v1h-2zM266 568h3v1h-3zM295 568h3v1h-3zM322 568h3v1h-3zM351 568h3v1h-3zM380 568h6v1h-6zM407 568h3v1h-3zM434 568h3v1h-3zM127 569h1v1h-1zM155 569h1v1h-1zM183 569h1v1h-1zM212 569h1v1h-1zM240 569h2v1h-2zM269 569h3v1h-3zM298 569h4v1h-4zM325 569h2v1h-2zM354 569h4v1h-4zM385 569h3v1h-3zM410 569h4v1h-4zM437 569h2v1h-2zM128 570h1v1h-1zM156 570h1v1h-1zM184 570h1v1h-1zM213 570h1v1h-1zM242 570h2v1h-2zM272 570h2v1h-2zM301 570h3v1h-3zM327 570h2v1h-2zM357 570h3v1h-3zM385 570h1v1h-1zM412 570h1v1h-1zM414 570h2v1h-2zM439 570h2v1h-2zM129 571h1v1h-1zM157 571h1v1h-1zM185 571h1v1h-1zM214 571h2v1h-2zM244 571h2v1h-2zM272 571h1v1h-1zM274 571h2v1h-2zM301 571h1v1h-1zM328 571h3v1h-3zM357 571h1v1h-1zM386 571h1v1h-1zM412 571h1v1h-1zM440 571h3v1h-3zM130 572h2v1h-2zM157 572h1v1h-1zM186 572h1v1h-1zM215 572h2v1h-2zM244 572h1v1h-1zM246 572h1v1h-1zM272 572h1v1h-1zM301 572h1v1h-1zM328 572h1v1h-1zM357 572h1v1h-1zM386 572h1v1h-1zM413 572h1v1h-1zM440 572h1v1h-1zM131 573h2v1h-2zM158 573h2v1h-2zM186 573h2v1h-2zM215 573h1v1h-1zM217 573h1v1h-1zM244 573h1v1h-1zM272 573h1v1h-1zM301 573h1v1h-1zM328 573h1v1h-1zM357 573h1v1h-1zM386 573h1v1h-1zM413 573h1v1h-1zM440 573h1v1h-1zM131 574h1v1h-1zM133 574h1v1h-1zM158 574h2v1h-2zM185 574h1v1h-1zM188 574h1v1h-1zM214 574h1v1h-1zM244 574h1v1h-1zM272 574h1v1h-1zM301 574h1v1h-1zM328 574h1v1h-1zM357 574h1v1h-1zM413 574h1v1h-1zM440 574h1v1h-1zM130 575h1v1h-1zM158 575h1v1h-1zM160 575h1v1h-1zM185 575h1v1h-1zM214 575h1v1h-1zM244 575h1v1h-1zM272 575h1v1h-1zM301 575h1v1h-1zM328 575h1v1h-1zM440 575h1v1h-1zM130 576h1v1h-1zM157 576h1v1h-1zM184 576h1v1h-1zM214 576h1v1h-1zM244 576h1v1h-1zM130 577h1v1h-1zM157 577h1v1h-1zM184 577h1v1h-1zM156 578h1v1h-1zM116 586h1v1h-1zM172 586h1v1h-1zM200 586h1v1h-1zM117 587h2v1h-2zM144 587h1v1h-1zM173 587h2v1h-2zM201 587h2v1h-2zM423 587h1v1h-1zM119 588h1v1h-1zM145 588h2v1h-2zM175 588h1v1h-1zM203 588h1v1h-1zM424 588h2v1h-2zM120 589h2v1h-2zM147 589h2v1h-2zM176 589h1v1h-1zM204 589h1v1h-1zM226 589h3v1h-3zM338 589h3v1h-3zM394 589h2v1h-2zM426 589h2v1h-2zM122 590h1v1h-1zM149 590h1v1h-1zM177 590h2v1h-2zM205 590h2v1h-2zM229 590h4v1h-4zM282 590h3v1h-3zM341 590h4v1h-4zM396 590h4v1h-4zM428 590h2v1h-2zM123 591h2v1h-2zM150 591h2v1h-2zM179 591h1v1h-1zM207 591h1v1h-1zM233 591h4v1h-4zM254 591h4v1h-4zM285 591h5v1h-5zM310 591h4v1h-4zM345 591h4v1h-4zM400 591h3v1h-3zM430 591h2v1h-2zM125 592h1v1h-1zM152 592h1v1h-1zM180 592h2v1h-2zM208 592h2v1h-2zM237 592h4v1h-4zM258 592h7v1h-7zM290 592h6v1h-6zM314 592h7v1h-7zM349 592h4v1h-4zM366 592h11v1h-11zM403 592h4v1h-4zM432 592h2v1h-2zM126 593h2v1h-2zM153 593h2v1h-2zM182 593h1v1h-1zM210 593h1v1h-1zM241 593h4v1h-4zM265 593h7v1h-7zM296 593h6v1h-6zM321 593h7v1h-7zM329 593h1v1h-1zM353 593h4v1h-4zM377 593h11v1h-11zM407 593h3v1h-3zM434 593h2v1h-2zM128 594h1v1h-1zM155 594h2v1h-2zM183 594h2v1h-2zM211 594h2v1h-2zM244 594h4v1h-4zM272 594h4v1h-4zM301 594h3v1h-3zM328 594h4v1h-4zM356 594h4v1h-4zM385 594h1v1h-1zM410 594h4v1h-4zM436 594h2v1h-2zM129 595h2v1h-2zM157 595h1v1h-1zM185 595h1v1h-1zM213 595h1v1h-1zM244 595h1v1h-1zM273 595h1v1h-1zM301 595h1v1h-1zM329 595h1v1h-1zM356 595h1v1h-1zM386 595h1v1h-1zM412 595h1v1h-1zM414 595h2v1h-2zM438 595h2v1h-2zM131 596h2v1h-2zM158 596h2v1h-2zM186 596h2v1h-2zM214 596h2v1h-2zM244 596h1v1h-1zM273 596h1v1h-1zM302 596h1v1h-1zM330 596h1v1h-1zM356 596h1v1h-1zM386 596h1v1h-1zM412 596h1v1h-1zM440 596h2v1h-2zM132 597h2v1h-2zM160 597h2v1h-2zM187 597h2v1h-2zM215 597h2v1h-2zM245 597h1v1h-1zM274 597h1v1h-1zM302 597h1v1h-1zM330 597h1v1h-1zM357 597h1v1h-1zM386 597h1v1h-1zM413 597h1v1h-1zM440 597h1v1h-1zM442 597h1v1h-1zM132 598h1v1h-1zM134 598h1v1h-1zM160 598h1v1h-1zM162 598h1v1h-1zM187 598h1v1h-1zM189 598h1v1h-1zM215 598h1v1h-1zM217 598h1v1h-1zM245 598h1v1h-1zM274 598h1v1h-1zM302 598h1v1h-1zM330 598h1v1h-1zM357 598h1v1h-1zM413 598h1v1h-1zM440 598h1v1h-1zM131 599h1v1h-1zM159 599h1v1h-1zM186 599h1v1h-1zM214 599h1v1h-1zM245 599h1v1h-1zM274 599h1v1h-1zM357 599h1v1h-1zM413 599h1v1h-1zM439 599h1v1h-1zM131 600h1v1h-1zM159 600h1v1h-1zM186 600h1v1h-1zM214 600h1v1h-1zM439 600h1v1h-1zM131 601h1v1h-1zM159 601h1v1h-1zM186 601h1v1h-1zM214 601h1v1h-1zM439 601h1v1h-1zM427 603h1v1h-1zM427 604h1v1h-1zM427 605h1v1h-1zM430 605h1v1h-1zM212 606h1v1h-1zM426 606h1v1h-1zM430 606h1v1h-1zM212 607h1v1h-1zM267 607h1v1h-1zM355 607h1v1h-1zM366 607h1v1h-1zM426 607h1v1h-1zM430 607h1v1h-1zM432 607h1v1h-1zM118 608h1v1h-1zM175 608h1v1h-1zM212 608h1v1h-1zM238 608h1v1h-1zM262 608h1v1h-1zM266 608h1v1h-1zM321 608h1v1h-1zM354 608h1v1h-1zM366 608h1v1h-1zM426 608h1v1h-1zM429 608h1v1h-1zM432 608h1v1h-1zM119 609h1v1h-1zM176 609h1v1h-1zM211 609h1v1h-1zM238 609h1v1h-1zM262 609h1v1h-1zM265 609h1v1h-1zM320 609h1v1h-1zM354 609h1v1h-1zM366 609h1v1h-1zM426 609h1v1h-1zM429 609h1v1h-1zM432 609h1v1h-1zM120 610h1v1h-1zM176 610h1v1h-1zM211 610h1v1h-1zM238 610h1v1h-1zM263 610h2v1h-2zM317 610h1v1h-1zM320 610h1v1h-1zM353 610h1v1h-1zM367 610h1v1h-1zM425 610h1v1h-1zM429 610h1v1h-1zM431 610h1v1h-1zM120 611h1v1h-1zM177 611h1v1h-1zM211 611h1v1h-1zM238 611h1v1h-1zM263 611h1v1h-1zM318 611h2v1h-2zM353 611h1v1h-1zM367 611h1v1h-1zM425 611h1v1h-1zM429 611h1v1h-1zM431 611h1v1h-1zM121 612h1v1h-1zM177 612h1v1h-1zM211 612h1v1h-1zM238 612h1v1h-1zM264 612h1v1h-1zM285 612h1v1h-1zM318 612h1v1h-1zM352 612h1v1h-1zM367 612h1v1h-1zM425 612h1v1h-1zM428 612h1v1h-1zM431 612h1v1h-1zM122 613h1v1h-1zM178 613h1v1h-1zM210 613h1v1h-1zM238 613h1v1h-1zM264 613h1v1h-1zM285 613h1v1h-1zM319 613h1v1h-1zM352 613h1v1h-1zM367 613h1v1h-1zM426 613h3v1h-3zM431 613h1v1h-1zM123 614h1v1h-1zM161 614h2v1h-2zM179 614h1v1h-1zM210 614h1v1h-1zM238 614h1v1h-1zM264 614h1v1h-1zM285 614h1v1h-1zM320 614h1v1h-1zM351 614h1v1h-1zM368 614h1v1h-1zM391 614h1v1h-1zM416 614h2v1h-2zM428 614h1v1h-1zM430 614h1v1h-1zM124 615h1v1h-1zM158 615h3v1h-3zM163 615h1v1h-1zM179 615h1v1h-1zM210 615h1v1h-1zM238 615h1v1h-1zM265 615h1v1h-1zM286 615h1v1h-1zM320 615h1v1h-1zM351 615h1v1h-1zM368 615h1v1h-1zM392 615h1v1h-1zM413 615h3v1h-3zM429 615h2v1h-2zM125 616h1v1h-1zM156 616h2v1h-2zM164 616h1v1h-1zM180 616h1v1h-1zM210 616h1v1h-1zM238 616h1v1h-1zM265 616h1v1h-1zM284 616h4v1h-4zM321 616h1v1h-1zM350 616h1v1h-1zM368 616h3v1h-3zM393 616h1v1h-1zM409 616h4v1h-4zM430 616h2v1h-2zM125 617h1v1h-1zM153 617h3v1h-3zM165 617h1v1h-1zM181 617h1v1h-1zM209 617h1v1h-1zM238 617h1v1h-1zM266 617h1v1h-1zM286 617h1v1h-1zM288 617h7v1h-7zM322 617h1v1h-1zM350 617h1v1h-1zM371 617h5v1h-5zM394 617h1v1h-1zM406 617h3v1h-3zM432 617h2v1h-2zM126 618h1v1h-1zM150 618h3v1h-3zM165 618h1v1h-1zM181 618h1v1h-1zM209 618h1v1h-1zM238 618h1v1h-1zM266 618h1v1h-1zM295 618h7v1h-7zM322 618h1v1h-1zM349 618h1v1h-1zM376 618h5v1h-5zM395 618h1v1h-1zM403 618h3v1h-3zM434 618h1v1h-1zM127 619h1v1h-1zM148 619h2v1h-2zM166 619h1v1h-1zM182 619h1v1h-1zM209 619h1v1h-1zM238 619h1v1h-1zM266 619h1v1h-1zM302 619h4v1h-4zM323 619h1v1h-1zM349 619h1v1h-1zM381 619h5v1h-5zM396 619h1v1h-1zM399 619h4v1h-4zM435 619h2v1h-2zM128 620h1v1h-1zM145 620h3v1h-3zM167 620h1v1h-1zM182 620h1v1h-1zM209 620h1v1h-1zM238 620h1v1h-1zM267 620h1v1h-1zM323 620h1v1h-1zM348 620h1v1h-1zM386 620h3v1h-3zM397 620h2v1h-2zM437 620h1v1h-1zM129 621h1v1h-1zM143 621h2v1h-2zM168 621h1v1h-1zM183 621h1v1h-1zM208 621h1v1h-1zM238 621h1v1h-1zM267 621h1v1h-1zM324 621h1v1h-1zM348 621h1v1h-1zM438 621h2v1h-2zM129 622h2v1h-2zM184 622h1v1h-1zM208 622h1v1h-1zM238 622h1v1h-1zM268 622h1v1h-1zM325 622h1v1h-1zM347 622h1v1h-1zM440 622h1v1h-1zM129 623h2v1h-2zM184 623h1v1h-1zM208 623h1v1h-1zM238 623h1v1h-1zM268 623h1v1h-1zM325 623h1v1h-1zM341 623h7v1h-7zM441 623h2v1h-2zM129 624h1v1h-1zM131 624h1v1h-1zM185 624h1v1h-1zM208 624h1v1h-1zM238 624h1v1h-1zM268 624h1v1h-1zM326 624h1v1h-1zM346 624h1v1h-1zM443 624h1v1h-1zM128 625h1v1h-1zM184 625h2v1h-2zM203 625h6v1h-6zM238 625h1v1h-1zM269 625h1v1h-1zM327 625h1v1h-1zM346 625h1v1h-1zM128 626h1v1h-1zM183 626h1v1h-1zM186 626h1v1h-1zM207 626h1v1h-1zM238 626h1v1h-1zM269 626h1v1h-1zM327 626h1v1h-1zM345 626h1v1h-1zM127 627h1v1h-1zM183 627h1v1h-1zM207 627h1v1h-1zM238 627h1v1h-1zM270 627h1v1h-1zM328 627h1v1h-1zM182 628h1v1h-1zM238 628h1v1h-1zM270 628h1v1h-1zM238 629h1v1h-1zM238 630h1v1h-1z" fill="#e27ae2"/>
<text x="599.5" y="23" font-size="16.5" fill="#000" text-anchor="start" textLength="59" lengthAdjust="spacingAndGlyphs">VVP (V)</text>
<text x="550" y="41.5" font-size="16.5" fill="#000" text-anchor="start" textLength="158" lengthAdjust="spacingAndGlyphs">09:32 / 28-Oct-2025</text>
<text x="600.5" y="60" font-size="16.5" fill="#000" text-anchor="start" textLength="57" lengthAdjust="spacingAndGlyphs">Kolkata</text>
<text x="522.5" y="78.5" font-size="12" fill="#000" text-anchor="start" textLength="45" lengthAdjust="spacingAndGlyphs">Pdf File:</text>
<text x="614.5" y="78.5" font-size="12" fill="#000" text-anchor="start" textLength="42" lengthAdjust="spacingAndGlyphs">30.vvp</text>
<text x="522.5" y="93.5" font-size="12" fill="#000" text-anchor="start" textLength="42" lengthAdjust="spacingAndGlyphs">Range:</text>
<text x="614.5" y="93.5" font-size="12" fill="#000" text-anchor="start" textLength="89" lengthAdjust="spacingAndGlyphs">0 km to 30 km</text>
<text x="522.5" y="108.5" font-size="12" fill="#000" text-anchor="start" textLength="77" lengthAdjust="spacingAndGlyphs">Clutter Filter:</text>
<text x="614.5" y="108.5" font-size="12" fill="#000" text-anchor="start" textLength="74.5" lengthAdjust="spacingAndGlyphs">IIRDoppler 7</text>
<text x="522.5" y="123.5" font-size="12" fill="#000" text-anchor="start" textLength="90" lengthAdjust="spacingAndGlyphs">Time sampling:</text>
<text x="614.5" y="123.5" font-size="12" fill="#000" text-anchor="start" textLength="14.5" lengthAdjust="spacingAndGlyphs">48</text>
<text x="522.5" y="138.5" font-size="12" fill="#000" text-anchor="start" textLength="24" lengthAdjust="spacingAndGlyphs">PRF:</text>
<text x="614.5" y="138.5" font-size="12" fill="#000" text-anchor="start" textLength="97" lengthAdjust="spacingAndGlyphs">600 Hz / 450 Hz</text>
<text x="522.5" y="153.5" font-size="12" fill="#000" text-anchor="start" textLength="53" lengthAdjust="spacingAndGlyphs">Alg type:</text>
<text x="614.5" y="153.5" font-size="12" fill="#000" text-anchor="start" textLength="56.5" lengthAdjust="spacingAndGlyphs">Complete</text>
<text x="522.5" y="168.5" font-size="12" fill="#000" text-anchor="start" textLength="58" lengthAdjust="spacingAndGlyphs">Elevation:</text>
<text x="614.5" y="168.5" font-size="12" fill="#000" text-anchor="start" textLength="121.5" lengthAdjust="spacingAndGlyphs">0.2 deg to 21.0 deg</text>
<text x="522.5" y="183.5" font-size="12" fill="#000" text-anchor="start" textLength="72" lengthAdjust="spacingAndGlyphs">Second reg:</text>
<text x="614.5" y="183.5" font-size="12" fill="#000" text-anchor="start" textLength="15.5" lengthAdjust="spacingAndGlyphs">On</text>
<text x="522.5" y="631" font-size="12" fill="#000" text-anchor="start" textLength="61.5" lengthAdjust="spacingAndGlyphs">Rainbow®</text>
<text x="589" y="631" font-size="12" fill="#000" text-anchor="start" textLength="53.5" lengthAdjust="spacingAndGlyphs">SELEX-SI</text>
</svg>
</body></html>
